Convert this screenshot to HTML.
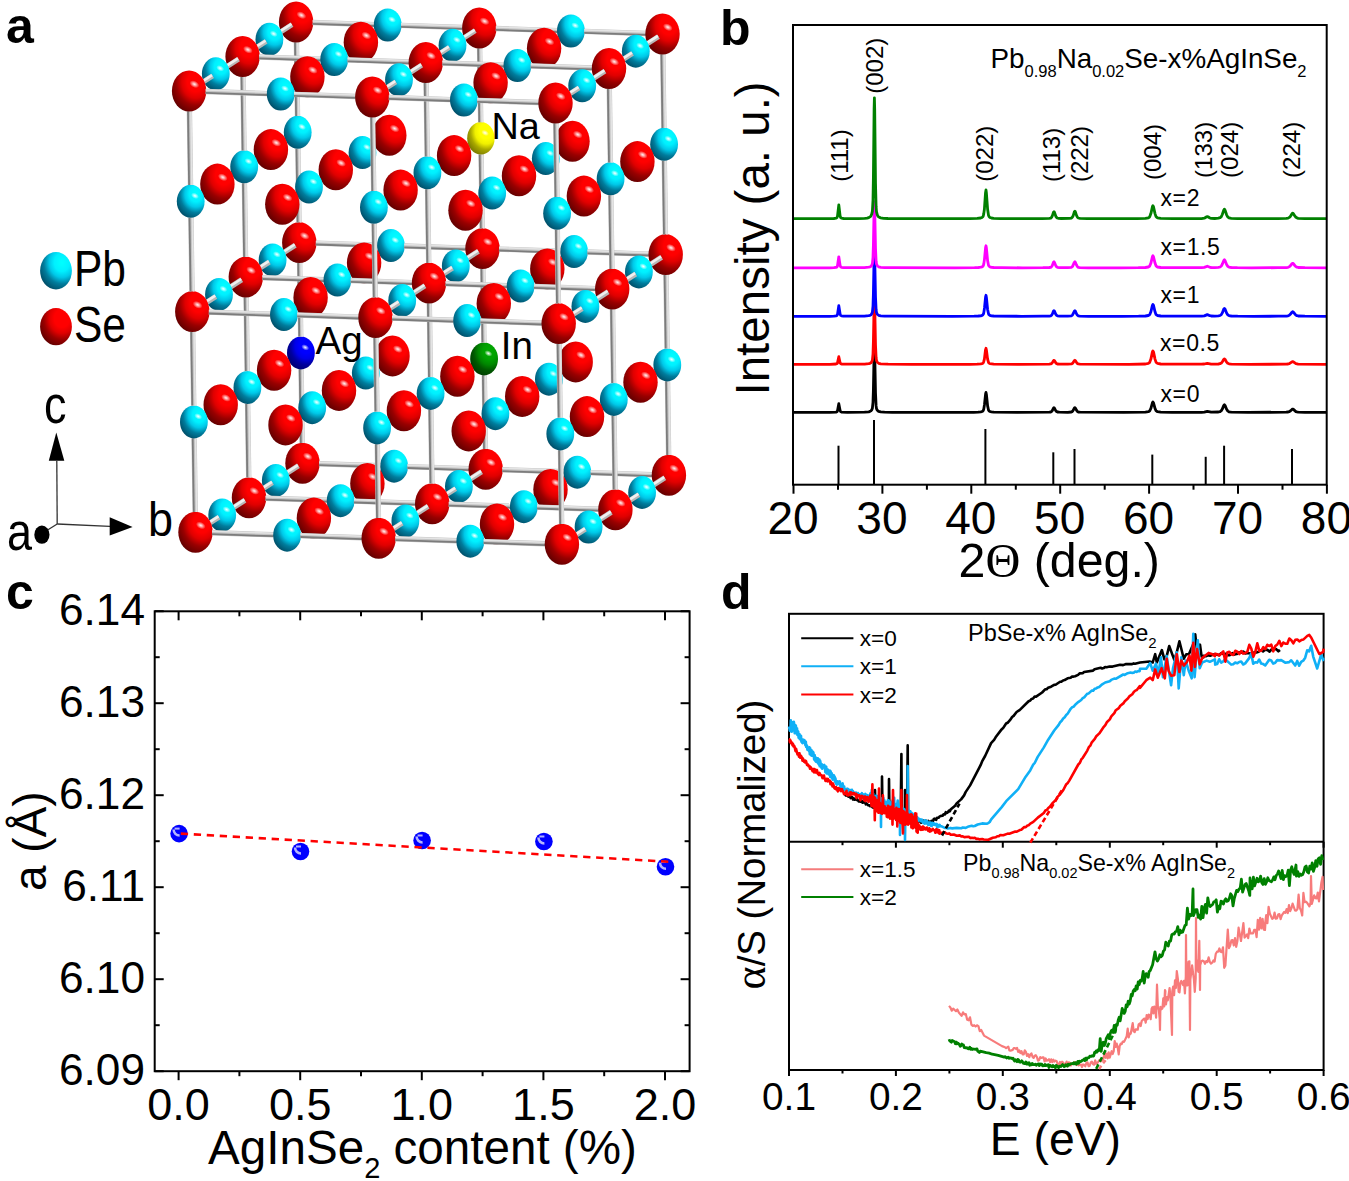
<!DOCTYPE html><html><head><meta charset="utf-8"><style>html,body{margin:0;padding:0;background:#fff;overflow:hidden}svg{display:block}</style></head><body>
<svg width="1349" height="1181" viewBox="0 0 1349 1181">
<defs>
<radialGradient id="gse" cx="0.7" cy="0.27" r="0.8" fx="0.68" fy="0.28">
<stop offset="0" stop-color="#ff0000"/><stop offset="0.1" stop-color="#ff0000"/><stop offset="0.3" stop-color="#ff0000"/><stop offset="0.5" stop-color="#e00000"/><stop offset="0.72" stop-color="#980000"/><stop offset="1" stop-color="#620000"/>
</radialGradient>
<radialGradient id="gpb" cx="0.7" cy="0.27" r="0.8" fx="0.68" fy="0.28">
<stop offset="0" stop-color="#00ffff"/><stop offset="0.1" stop-color="#00fbff"/><stop offset="0.3" stop-color="#00f0ff"/><stop offset="0.5" stop-color="#00c8e8"/><stop offset="0.72" stop-color="#007c9c"/><stop offset="1" stop-color="#004e68"/>
</radialGradient>
<radialGradient id="gna" cx="0.7" cy="0.27" r="0.8" fx="0.68" fy="0.28">
<stop offset="0" stop-color="#ffff00"/><stop offset="0.1" stop-color="#ffff00"/><stop offset="0.3" stop-color="#ffff00"/><stop offset="0.5" stop-color="#f0f000"/><stop offset="0.72" stop-color="#a8a800"/><stop offset="1" stop-color="#787800"/>
</radialGradient>
<radialGradient id="gag" cx="0.7" cy="0.27" r="0.8" fx="0.68" fy="0.28">
<stop offset="0" stop-color="#0000ff"/><stop offset="0.1" stop-color="#0000ff"/><stop offset="0.3" stop-color="#0000ff"/><stop offset="0.5" stop-color="#0000e8"/><stop offset="0.72" stop-color="#0000a0"/><stop offset="1" stop-color="#000070"/>
</radialGradient>
<radialGradient id="gin" cx="0.7" cy="0.27" r="0.8" fx="0.68" fy="0.28">
<stop offset="0" stop-color="#00a800"/><stop offset="0.1" stop-color="#00a800"/><stop offset="0.3" stop-color="#00a000"/><stop offset="0.5" stop-color="#008800"/><stop offset="0.72" stop-color="#005800"/><stop offset="1" stop-color="#003c00"/>
</radialGradient>
<radialGradient id="ghl"><stop offset="0" stop-color="#fff" stop-opacity="0.95"/><stop offset="0.3" stop-color="#fff" stop-opacity="0.7"/><stop offset="1" stop-color="#fff" stop-opacity="0"/></radialGradient>
<radialGradient id="gball" cx="0.5" cy="0.5" r="0.5"><stop offset="0" stop-color="#0000ff"/><stop offset="0.85" stop-color="#0000f0"/><stop offset="1" stop-color="#0000c8"/></radialGradient>
</defs>
<rect width="1349" height="1181" fill="#fff"/>
<g id="crystal">
<ellipse cx="302.5" cy="463.2" rx="17.2" ry="20.5" fill="url(#gse)"/>
<ellipse cx="307.8" cy="456.4" rx="5.2" ry="3.4" transform="rotate(28 307.8 456.4)" fill="url(#ghl)"/>
<path d="M301.1 369.2L302.2 443" stroke="#c4c4c4" stroke-width="5.4"/>
<path d="M299.7 369.3L300.8 443" stroke="#7c7c7c" stroke-width="1.8"/>
<path d="M302.6 369.2L303.7 443" stroke="#e4e4e4" stroke-width="1.6"/>
<path d="M319 463.7L380.8 465.8" stroke="#c4c4c4" stroke-width="5.4"/>
<path d="M319 465.1L380.7 467.2" stroke="#7c7c7c" stroke-width="1.8"/>
<path d="M319.1 462.2L380.8 464.3" stroke="#e4e4e4" stroke-width="1.6"/>
<ellipse cx="300.9" cy="352.9" rx="13.9" ry="16.5" fill="url(#gag)"/>
<ellipse cx="305.2" cy="347.4" rx="4.2" ry="2.8" transform="rotate(28 305.2 347.4)" fill="url(#ghl)"/>
<path d="M299.6 262.8L300.7 336.6" stroke="#c4c4c4" stroke-width="5.4"/>
<path d="M298.2 262.8L299.3 336.6" stroke="#7c7c7c" stroke-width="1.8"/>
<path d="M301.1 262.8L302.2 336.5" stroke="#e4e4e4" stroke-width="1.6"/>
<ellipse cx="394.1" cy="466.2" rx="13.9" ry="16.5" fill="url(#gpb)"/>
<ellipse cx="398.4" cy="460.7" rx="4.2" ry="2.8" transform="rotate(28 398.4 460.7)" fill="url(#ghl)"/>
<ellipse cx="299.3" cy="242.6" rx="17.2" ry="20.5" fill="url(#gse)"/>
<ellipse cx="304.6" cy="235.8" rx="5.2" ry="3.4" transform="rotate(28 304.6 235.8)" fill="url(#ghl)"/>
<path d="M297.9 148.6L299 222.4" stroke="#c4c4c4" stroke-width="5.4"/>
<path d="M296.5 148.7L297.6 222.4" stroke="#7c7c7c" stroke-width="1.8"/>
<path d="M299.4 148.6L300.5 222.4" stroke="#e4e4e4" stroke-width="1.6"/>
<path d="M407.4 466.6L469.2 468.7" stroke="#c4c4c4" stroke-width="5.4"/>
<path d="M407.4 468L469.1 470.1" stroke="#7c7c7c" stroke-width="1.8"/>
<path d="M407.5 465.1L469.2 467.2" stroke="#e4e4e4" stroke-width="1.6"/>
<ellipse cx="392.5" cy="355.9" rx="17.2" ry="20.5" fill="url(#gse)"/>
<ellipse cx="397.8" cy="349.1" rx="5.2" ry="3.4" transform="rotate(28 397.8 349.1)" fill="url(#ghl)"/>
<path d="M315.8 243.1L377.6 245.2" stroke="#c4c4c4" stroke-width="5.4"/>
<path d="M315.8 244.5L377.5 246.6" stroke="#7c7c7c" stroke-width="1.8"/>
<path d="M315.9 241.6L377.6 243.7" stroke="#e4e4e4" stroke-width="1.6"/>
<ellipse cx="297.7" cy="132.3" rx="13.9" ry="16.5" fill="url(#gpb)"/>
<ellipse cx="302" cy="126.8" rx="4.2" ry="2.8" transform="rotate(28 302 126.8)" fill="url(#ghl)"/>
<path d="M279 478.3L298.4 465.8" stroke="#b8b8b8" stroke-width="5.2"/>
<path d="M278.6 477.6L297.9 465.1" stroke="#f0f0f0" stroke-width="2.6"/>
<path d="M296.4 42.2L297.5 116" stroke="#c4c4c4" stroke-width="5.4"/>
<path d="M295 42.2L296.1 116" stroke="#7c7c7c" stroke-width="1.8"/>
<path d="M297.9 42.2L299 115.9" stroke="#e4e4e4" stroke-width="1.6"/>
<ellipse cx="485.7" cy="469.2" rx="17.2" ry="20.5" fill="url(#gse)"/>
<ellipse cx="491" cy="462.4" rx="5.2" ry="3.4" transform="rotate(28 491 462.4)" fill="url(#ghl)"/>
<ellipse cx="390.9" cy="245.6" rx="13.9" ry="16.5" fill="url(#gpb)"/>
<ellipse cx="395.2" cy="240.1" rx="4.2" ry="2.8" transform="rotate(28 395.2 240.1)" fill="url(#ghl)"/>
<ellipse cx="296.1" cy="22" rx="17.2" ry="20.5" fill="url(#gse)"/>
<ellipse cx="301.4" cy="15.2" rx="5.2" ry="3.4" transform="rotate(28 301.4 15.2)" fill="url(#ghl)"/>
<path d="M484.3 375.2L485.4 449" stroke="#c4c4c4" stroke-width="5.4"/>
<path d="M482.9 375.3L484 449" stroke="#7c7c7c" stroke-width="1.8"/>
<path d="M485.8 375.2L486.9 449" stroke="#e4e4e4" stroke-width="1.6"/>
<path d="M502.2 469.7L564 471.8" stroke="#c4c4c4" stroke-width="5.4"/>
<path d="M502.2 471.1L563.9 473.2" stroke="#7c7c7c" stroke-width="1.8"/>
<path d="M502.3 468.2L564 470.3" stroke="#e4e4e4" stroke-width="1.6"/>
<ellipse cx="484.1" cy="358.9" rx="13.9" ry="16.5" fill="url(#gin)"/>
<ellipse cx="488.4" cy="353.4" rx="4.2" ry="2.8" transform="rotate(28 488.4 353.4)" fill="url(#ghl)"/>
<path d="M404.2 246L466 248.1" stroke="#c4c4c4" stroke-width="5.4"/>
<path d="M404.2 247.4L465.9 249.5" stroke="#7c7c7c" stroke-width="1.8"/>
<path d="M404.3 244.5L466 246.6" stroke="#e4e4e4" stroke-width="1.6"/>
<ellipse cx="389.3" cy="135.3" rx="17.2" ry="20.5" fill="url(#gse)"/>
<ellipse cx="394.6" cy="128.5" rx="5.2" ry="3.4" transform="rotate(28 394.6 128.5)" fill="url(#ghl)"/>
<path d="M312.6 22.5L374.4 24.6" stroke="#c4c4c4" stroke-width="5.4"/>
<path d="M312.6 23.9L374.3 26" stroke="#7c7c7c" stroke-width="1.8"/>
<path d="M312.7 21L374.4 23.1" stroke="#e4e4e4" stroke-width="1.6"/>
<path d="M482.8 268.8L483.9 342.6" stroke="#c4c4c4" stroke-width="5.4"/>
<path d="M481.4 268.8L482.5 342.6" stroke="#7c7c7c" stroke-width="1.8"/>
<path d="M484.3 268.8L485.4 342.5" stroke="#e4e4e4" stroke-width="1.6"/>
<path d="M275.8 257.7L295.2 245.2" stroke="#b8b8b8" stroke-width="5.2"/>
<path d="M275.4 257L294.7 244.5" stroke="#f0f0f0" stroke-width="2.6"/>
<ellipse cx="577.3" cy="472.2" rx="13.9" ry="16.5" fill="url(#gpb)"/>
<ellipse cx="581.6" cy="466.7" rx="4.2" ry="2.8" transform="rotate(28 581.6 466.7)" fill="url(#ghl)"/>
<ellipse cx="482.5" cy="248.6" rx="17.2" ry="20.5" fill="url(#gse)"/>
<ellipse cx="487.8" cy="241.8" rx="5.2" ry="3.4" transform="rotate(28 487.8 241.8)" fill="url(#ghl)"/>
<ellipse cx="387.7" cy="25" rx="13.9" ry="16.5" fill="url(#gpb)"/>
<ellipse cx="392" cy="19.5" rx="4.2" ry="2.8" transform="rotate(28 392 19.5)" fill="url(#ghl)"/>
<path d="M481.1 154.4L482.2 228.4" stroke="#c4c4c4" stroke-width="5.4"/>
<path d="M479.7 154.4L480.8 228.4" stroke="#7c7c7c" stroke-width="1.8"/>
<path d="M482.6 154.4L483.7 228.4" stroke="#e4e4e4" stroke-width="1.6"/>
<ellipse cx="275.8" cy="480.4" rx="13.9" ry="16.5" fill="url(#gpb)"/>
<ellipse cx="280.1" cy="475" rx="4.2" ry="2.8" transform="rotate(28 280.1 475)" fill="url(#ghl)"/>
<path d="M590.6 472.6L652.4 474.7" stroke="#c4c4c4" stroke-width="5.4"/>
<path d="M590.6 474L652.3 476.1" stroke="#7c7c7c" stroke-width="1.8"/>
<path d="M590.7 471.1L652.4 473.2" stroke="#e4e4e4" stroke-width="1.6"/>
<ellipse cx="575.7" cy="361.9" rx="17.2" ry="20.5" fill="url(#gse)"/>
<ellipse cx="581" cy="355.1" rx="5.2" ry="3.4" transform="rotate(28 581 355.1)" fill="url(#ghl)"/>
<path d="M499 249.1L560.8 251.2" stroke="#c4c4c4" stroke-width="5.4"/>
<path d="M499 250.5L560.7 252.6" stroke="#7c7c7c" stroke-width="1.8"/>
<path d="M499.1 247.6L560.8 249.7" stroke="#e4e4e4" stroke-width="1.6"/>
<ellipse cx="480.9" cy="138.3" rx="13.7" ry="16.3" fill="url(#gna)"/>
<ellipse cx="485.1" cy="132.9" rx="4.1" ry="2.7" transform="rotate(28 485.1 132.9)" fill="url(#ghl)"/>
<path d="M401 25.4L462.8 27.5" stroke="#c4c4c4" stroke-width="5.4"/>
<path d="M401 26.8L462.7 28.9" stroke="#7c7c7c" stroke-width="1.8"/>
<path d="M401.1 23.9L462.8 26" stroke="#e4e4e4" stroke-width="1.6"/>
<path d="M462.2 484.3L481.6 471.8" stroke="#b8b8b8" stroke-width="5.2"/>
<path d="M461.8 483.6L481.1 471.1" stroke="#f0f0f0" stroke-width="2.6"/>
<path d="M479.6 48.2L480.7 122.2" stroke="#c4c4c4" stroke-width="5.4"/>
<path d="M478.2 48.2L479.3 122.2" stroke="#7c7c7c" stroke-width="1.8"/>
<path d="M481.1 48.2L482.2 122.2" stroke="#e4e4e4" stroke-width="1.6"/>
<path d="M272.6 37.1L292 24.6" stroke="#b8b8b8" stroke-width="5.2"/>
<path d="M272.2 36.4L291.5 23.9" stroke="#f0f0f0" stroke-width="2.6"/>
<ellipse cx="274.1" cy="370.2" rx="17.2" ry="20.5" fill="url(#gse)"/>
<ellipse cx="279.5" cy="363.4" rx="5.2" ry="3.4" transform="rotate(28 279.5 363.4)" fill="url(#ghl)"/>
<ellipse cx="668.9" cy="475.2" rx="17.2" ry="20.5" fill="url(#gse)"/>
<ellipse cx="674.2" cy="468.4" rx="5.2" ry="3.4" transform="rotate(28 674.2 468.4)" fill="url(#ghl)"/>
<ellipse cx="574.1" cy="251.6" rx="13.9" ry="16.5" fill="url(#gpb)"/>
<ellipse cx="578.4" cy="246.1" rx="4.2" ry="2.8" transform="rotate(28 578.4 246.1)" fill="url(#ghl)"/>
<ellipse cx="479.3" cy="28" rx="17.2" ry="20.5" fill="url(#gse)"/>
<ellipse cx="484.6" cy="21.2" rx="5.2" ry="3.4" transform="rotate(28 484.6 21.2)" fill="url(#ghl)"/>
<path d="M667.5 381.2L668.6 455" stroke="#c4c4c4" stroke-width="5.4"/>
<path d="M666.1 381.3L667.2 455" stroke="#7c7c7c" stroke-width="1.8"/>
<path d="M669 381.2L670.1 455" stroke="#e4e4e4" stroke-width="1.6"/>
<ellipse cx="367.4" cy="483.4" rx="17.2" ry="20.5" fill="url(#gse)"/>
<ellipse cx="372.7" cy="476.7" rx="5.2" ry="3.4" transform="rotate(28 372.7 476.7)" fill="url(#ghl)"/>
<ellipse cx="272.6" cy="259.9" rx="13.9" ry="16.5" fill="url(#gpb)"/>
<ellipse cx="276.9" cy="254.4" rx="4.2" ry="2.8" transform="rotate(28 276.9 254.4)" fill="url(#ghl)"/>
<ellipse cx="667.3" cy="364.9" rx="13.9" ry="16.5" fill="url(#gpb)"/>
<ellipse cx="671.6" cy="359.4" rx="4.2" ry="2.8" transform="rotate(28 671.6 359.4)" fill="url(#ghl)"/>
<path d="M587.4 252L649.2 254.1" stroke="#c4c4c4" stroke-width="5.4"/>
<path d="M587.4 253.4L649.1 255.5" stroke="#7c7c7c" stroke-width="1.8"/>
<path d="M587.5 250.5L649.2 252.6" stroke="#e4e4e4" stroke-width="1.6"/>
<ellipse cx="572.5" cy="141.3" rx="17.2" ry="20.5" fill="url(#gse)"/>
<ellipse cx="577.8" cy="134.5" rx="5.2" ry="3.4" transform="rotate(28 577.8 134.5)" fill="url(#ghl)"/>
<path d="M495.8 28.5L557.6 30.6" stroke="#c4c4c4" stroke-width="5.4"/>
<path d="M495.8 29.9L557.5 32" stroke="#7c7c7c" stroke-width="1.8"/>
<path d="M495.9 27L557.6 29.1" stroke="#e4e4e4" stroke-width="1.6"/>
<path d="M666 274.8L667.1 348.6" stroke="#c4c4c4" stroke-width="5.4"/>
<path d="M664.6 274.8L665.7 348.6" stroke="#7c7c7c" stroke-width="1.8"/>
<path d="M667.5 274.8L668.6 348.5" stroke="#e4e4e4" stroke-width="1.6"/>
<path d="M459 263.7L478.4 251.2" stroke="#b8b8b8" stroke-width="5.2"/>
<path d="M458.6 263L477.9 250.5" stroke="#f0f0f0" stroke-width="2.6"/>
<ellipse cx="365.8" cy="373.1" rx="13.9" ry="16.5" fill="url(#gpb)"/>
<ellipse cx="370.1" cy="367.7" rx="4.2" ry="2.8" transform="rotate(28 370.1 367.7)" fill="url(#ghl)"/>
<ellipse cx="270.9" cy="149.6" rx="17.2" ry="20.5" fill="url(#gse)"/>
<ellipse cx="276.3" cy="142.8" rx="5.2" ry="3.4" transform="rotate(28 276.3 142.8)" fill="url(#ghl)"/>
<ellipse cx="665.7" cy="254.6" rx="17.2" ry="20.5" fill="url(#gse)"/>
<ellipse cx="671" cy="247.8" rx="5.2" ry="3.4" transform="rotate(28 671 247.8)" fill="url(#ghl)"/>
<path d="M253.1 495.1L272.5 482.6" stroke="#b8b8b8" stroke-width="5.2"/>
<path d="M252.6 494.3L272 481.8" stroke="#f0f0f0" stroke-width="2.6"/>
<ellipse cx="570.9" cy="31" rx="13.9" ry="16.5" fill="url(#gpb)"/>
<ellipse cx="575.2" cy="25.5" rx="4.2" ry="2.8" transform="rotate(28 575.2 25.5)" fill="url(#ghl)"/>
<path d="M664.3 160.6L665.4 234.4" stroke="#c4c4c4" stroke-width="5.4"/>
<path d="M662.9 160.7L664 234.4" stroke="#7c7c7c" stroke-width="1.8"/>
<path d="M665.8 160.6L666.9 234.4" stroke="#e4e4e4" stroke-width="1.6"/>
<ellipse cx="458.9" cy="486.4" rx="13.9" ry="16.5" fill="url(#gpb)"/>
<ellipse cx="463.3" cy="481" rx="4.2" ry="2.8" transform="rotate(28 463.3 481)" fill="url(#ghl)"/>
<ellipse cx="364.1" cy="262.9" rx="17.2" ry="20.5" fill="url(#gse)"/>
<ellipse cx="369.5" cy="256.1" rx="5.2" ry="3.4" transform="rotate(28 369.5 256.1)" fill="url(#ghl)"/>
<ellipse cx="269.4" cy="39.3" rx="13.9" ry="16.5" fill="url(#gpb)"/>
<ellipse cx="273.7" cy="33.8" rx="4.2" ry="2.8" transform="rotate(28 273.7 33.8)" fill="url(#ghl)"/>
<ellipse cx="664.1" cy="144.3" rx="13.9" ry="16.5" fill="url(#gpb)"/>
<ellipse cx="668.4" cy="138.8" rx="4.2" ry="2.8" transform="rotate(28 668.4 138.8)" fill="url(#ghl)"/>
<path d="M584.2 31.4L646 33.5" stroke="#c4c4c4" stroke-width="5.4"/>
<path d="M584.2 32.8L645.9 34.9" stroke="#7c7c7c" stroke-width="1.8"/>
<path d="M584.3 29.9L646 32" stroke="#e4e4e4" stroke-width="1.6"/>
<path d="M645.4 490.3L664.8 477.8" stroke="#b8b8b8" stroke-width="5.2"/>
<path d="M645 489.6L664.3 477.1" stroke="#f0f0f0" stroke-width="2.6"/>
<path d="M662.8 54.2L663.9 128" stroke="#c4c4c4" stroke-width="5.4"/>
<path d="M661.4 54.2L662.5 128" stroke="#7c7c7c" stroke-width="1.8"/>
<path d="M664.3 54.2L665.4 127.9" stroke="#e4e4e4" stroke-width="1.6"/>
<path d="M455.8 43.1L475.2 30.6" stroke="#b8b8b8" stroke-width="5.2"/>
<path d="M455.4 42.4L474.7 29.9" stroke="#f0f0f0" stroke-width="2.6"/>
<ellipse cx="457.4" cy="376.2" rx="17.2" ry="20.5" fill="url(#gse)"/>
<ellipse cx="462.7" cy="369.4" rx="5.2" ry="3.4" transform="rotate(28 462.7 369.4)" fill="url(#ghl)"/>
<ellipse cx="362.5" cy="152.6" rx="13.9" ry="16.5" fill="url(#gpb)"/>
<ellipse cx="366.9" cy="147.1" rx="4.2" ry="2.8" transform="rotate(28 366.9 147.1)" fill="url(#ghl)"/>
<ellipse cx="662.5" cy="34" rx="17.2" ry="20.5" fill="url(#gse)"/>
<ellipse cx="667.8" cy="27.2" rx="5.2" ry="3.4" transform="rotate(28 667.8 27.2)" fill="url(#ghl)"/>
<path d="M249.9 274.5L269.3 262" stroke="#b8b8b8" stroke-width="5.2"/>
<path d="M249.4 273.7L268.8 261.2" stroke="#f0f0f0" stroke-width="2.6"/>
<ellipse cx="550.5" cy="489.4" rx="17.2" ry="20.5" fill="url(#gse)"/>
<ellipse cx="555.9" cy="482.7" rx="5.2" ry="3.4" transform="rotate(28 555.9 482.7)" fill="url(#ghl)"/>
<ellipse cx="455.8" cy="265.9" rx="13.9" ry="16.5" fill="url(#gpb)"/>
<ellipse cx="460.1" cy="260.4" rx="4.2" ry="2.8" transform="rotate(28 460.1 260.4)" fill="url(#ghl)"/>
<ellipse cx="360.9" cy="42.2" rx="17.2" ry="20.5" fill="url(#gse)"/>
<ellipse cx="366.3" cy="35.5" rx="5.2" ry="3.4" transform="rotate(28 366.3 35.5)" fill="url(#ghl)"/>
<path d="M642.2 269.7L661.6 257.2" stroke="#b8b8b8" stroke-width="5.2"/>
<path d="M641.8 269L661.1 256.5" stroke="#f0f0f0" stroke-width="2.6"/>
<ellipse cx="249" cy="497.7" rx="17.2" ry="20.5" fill="url(#gse)"/>
<ellipse cx="254.3" cy="490.9" rx="5.2" ry="3.4" transform="rotate(28 254.3 490.9)" fill="url(#ghl)"/>
<ellipse cx="548.9" cy="379.2" rx="13.9" ry="16.5" fill="url(#gpb)"/>
<ellipse cx="553.3" cy="373.7" rx="4.2" ry="2.8" transform="rotate(28 553.3 373.7)" fill="url(#ghl)"/>
<ellipse cx="454.1" cy="155.6" rx="17.2" ry="20.5" fill="url(#gse)"/>
<ellipse cx="459.5" cy="148.8" rx="5.2" ry="3.4" transform="rotate(28 459.5 148.8)" fill="url(#ghl)"/>
<path d="M436.3 501.1L455.7 488.6" stroke="#b8b8b8" stroke-width="5.2"/>
<path d="M435.8 500.3L455.2 487.8" stroke="#f0f0f0" stroke-width="2.6"/>
<path d="M247.6 403.7L248.7 477.5" stroke="#c4c4c4" stroke-width="5.4"/>
<path d="M246.2 403.8L247.3 477.5" stroke="#7c7c7c" stroke-width="1.8"/>
<path d="M249.1 403.7L250.2 477.5" stroke="#e4e4e4" stroke-width="1.6"/>
<path d="M246.7 53.9L266.1 41.4" stroke="#b8b8b8" stroke-width="5.2"/>
<path d="M246.2 53.1L265.6 40.6" stroke="#f0f0f0" stroke-width="2.6"/>
<path d="M265.5 498.2L327.3 500.3" stroke="#c4c4c4" stroke-width="5.4"/>
<path d="M265.5 499.6L327.2 501.7" stroke="#7c7c7c" stroke-width="1.8"/>
<path d="M265.6 496.7L327.3 498.8" stroke="#e4e4e4" stroke-width="1.6"/>
<ellipse cx="247.4" cy="387.4" rx="13.9" ry="16.5" fill="url(#gpb)"/>
<ellipse cx="251.7" cy="381.9" rx="4.2" ry="2.8" transform="rotate(28 251.7 381.9)" fill="url(#ghl)"/>
<ellipse cx="642.1" cy="492.4" rx="13.9" ry="16.5" fill="url(#gpb)"/>
<ellipse cx="646.5" cy="487" rx="4.2" ry="2.8" transform="rotate(28 646.5 487)" fill="url(#ghl)"/>
<ellipse cx="547.3" cy="268.9" rx="17.2" ry="20.5" fill="url(#gse)"/>
<ellipse cx="552.7" cy="262.1" rx="5.2" ry="3.4" transform="rotate(28 552.7 262.1)" fill="url(#ghl)"/>
<ellipse cx="452.5" cy="45.3" rx="13.9" ry="16.5" fill="url(#gpb)"/>
<ellipse cx="456.9" cy="39.8" rx="4.2" ry="2.8" transform="rotate(28 456.9 39.8)" fill="url(#ghl)"/>
<path d="M246.1 297.3L247.2 371.1" stroke="#c4c4c4" stroke-width="5.4"/>
<path d="M244.7 297.3L245.8 371.1" stroke="#7c7c7c" stroke-width="1.8"/>
<path d="M247.6 297.3L248.7 371" stroke="#e4e4e4" stroke-width="1.6"/>
<ellipse cx="340.6" cy="500.7" rx="13.9" ry="16.5" fill="url(#gpb)"/>
<ellipse cx="344.9" cy="495.2" rx="4.2" ry="2.8" transform="rotate(28 344.9 495.2)" fill="url(#ghl)"/>
<path d="M639 49.1L658.4 36.6" stroke="#b8b8b8" stroke-width="5.2"/>
<path d="M638.6 48.4L657.9 35.9" stroke="#f0f0f0" stroke-width="2.6"/>
<ellipse cx="245.8" cy="277.1" rx="17.2" ry="20.5" fill="url(#gse)"/>
<ellipse cx="251.1" cy="270.3" rx="5.2" ry="3.4" transform="rotate(28 251.1 270.3)" fill="url(#ghl)"/>
<ellipse cx="640.5" cy="382.2" rx="17.2" ry="20.5" fill="url(#gse)"/>
<ellipse cx="645.9" cy="375.4" rx="5.2" ry="3.4" transform="rotate(28 645.9 375.4)" fill="url(#ghl)"/>
<ellipse cx="545.8" cy="158.6" rx="13.9" ry="16.5" fill="url(#gpb)"/>
<ellipse cx="550.1" cy="153.1" rx="4.2" ry="2.8" transform="rotate(28 550.1 153.1)" fill="url(#ghl)"/>
<path d="M433.1 280.5L452.5 268" stroke="#b8b8b8" stroke-width="5.2"/>
<path d="M432.6 279.7L452 267.2" stroke="#f0f0f0" stroke-width="2.6"/>
<path d="M244.4 183.1L245.5 256.9" stroke="#c4c4c4" stroke-width="5.4"/>
<path d="M243 183.2L244.1 256.9" stroke="#7c7c7c" stroke-width="1.8"/>
<path d="M245.9 183.1L247 256.9" stroke="#e4e4e4" stroke-width="1.6"/>
<path d="M353.9 501.1L415.7 503.2" stroke="#c4c4c4" stroke-width="5.4"/>
<path d="M353.9 502.5L415.6 504.6" stroke="#7c7c7c" stroke-width="1.8"/>
<path d="M354 499.6L415.7 501.7" stroke="#e4e4e4" stroke-width="1.6"/>
<ellipse cx="339" cy="390.4" rx="17.2" ry="20.5" fill="url(#gse)"/>
<ellipse cx="344.3" cy="383.6" rx="5.2" ry="3.4" transform="rotate(28 344.3 383.6)" fill="url(#ghl)"/>
<path d="M262.3 277.6L324.1 279.7" stroke="#c4c4c4" stroke-width="5.4"/>
<path d="M262.3 279L324 281.1" stroke="#7c7c7c" stroke-width="1.8"/>
<path d="M262.4 276.1L324.1 278.2" stroke="#e4e4e4" stroke-width="1.6"/>
<ellipse cx="244.2" cy="166.8" rx="13.9" ry="16.5" fill="url(#gpb)"/>
<ellipse cx="248.5" cy="161.3" rx="4.2" ry="2.8" transform="rotate(28 248.5 161.3)" fill="url(#ghl)"/>
<ellipse cx="638.9" cy="271.9" rx="13.9" ry="16.5" fill="url(#gpb)"/>
<ellipse cx="643.3" cy="266.4" rx="4.2" ry="2.8" transform="rotate(28 643.3 266.4)" fill="url(#ghl)"/>
<ellipse cx="544.1" cy="48.3" rx="17.2" ry="20.5" fill="url(#gse)"/>
<ellipse cx="549.5" cy="41.5" rx="5.2" ry="3.4" transform="rotate(28 549.5 41.5)" fill="url(#ghl)"/>
<path d="M225.5 512.8L244.9 500.3" stroke="#b8b8b8" stroke-width="5.2"/>
<path d="M225.1 512.1L244.4 499.6" stroke="#f0f0f0" stroke-width="2.6"/>
<path d="M242.9 76.7L244 150.5" stroke="#c4c4c4" stroke-width="5.4"/>
<path d="M241.5 76.7L242.6 150.5" stroke="#7c7c7c" stroke-width="1.8"/>
<path d="M244.4 76.7L245.5 150.4" stroke="#e4e4e4" stroke-width="1.6"/>
<ellipse cx="432.2" cy="503.7" rx="17.2" ry="20.5" fill="url(#gse)"/>
<ellipse cx="437.5" cy="496.9" rx="5.2" ry="3.4" transform="rotate(28 437.5 496.9)" fill="url(#ghl)"/>
<ellipse cx="337.4" cy="280.1" rx="13.9" ry="16.5" fill="url(#gpb)"/>
<ellipse cx="341.7" cy="274.6" rx="4.2" ry="2.8" transform="rotate(28 341.7 274.6)" fill="url(#ghl)"/>
<ellipse cx="242.6" cy="56.5" rx="17.2" ry="20.5" fill="url(#gse)"/>
<ellipse cx="247.9" cy="49.7" rx="5.2" ry="3.4" transform="rotate(28 247.9 49.7)" fill="url(#ghl)"/>
<ellipse cx="637.4" cy="161.6" rx="17.2" ry="20.5" fill="url(#gse)"/>
<ellipse cx="642.7" cy="154.8" rx="5.2" ry="3.4" transform="rotate(28 642.7 154.8)" fill="url(#ghl)"/>
<path d="M619.5 507.1L638.9 494.6" stroke="#b8b8b8" stroke-width="5.2"/>
<path d="M619 506.3L638.4 493.8" stroke="#f0f0f0" stroke-width="2.6"/>
<path d="M430.8 409.7L431.9 483.5" stroke="#c4c4c4" stroke-width="5.4"/>
<path d="M429.4 409.8L430.5 483.5" stroke="#7c7c7c" stroke-width="1.8"/>
<path d="M432.3 409.7L433.4 483.5" stroke="#e4e4e4" stroke-width="1.6"/>
<path d="M429.9 59.9L449.3 47.4" stroke="#b8b8b8" stroke-width="5.2"/>
<path d="M429.4 59.1L448.8 46.6" stroke="#f0f0f0" stroke-width="2.6"/>
<path d="M448.7 504.2L510.5 506.3" stroke="#c4c4c4" stroke-width="5.4"/>
<path d="M448.7 505.6L510.4 507.7" stroke="#7c7c7c" stroke-width="1.8"/>
<path d="M448.8 502.7L510.5 504.8" stroke="#e4e4e4" stroke-width="1.6"/>
<ellipse cx="430.6" cy="393.4" rx="13.9" ry="16.5" fill="url(#gpb)"/>
<ellipse cx="434.9" cy="387.9" rx="4.2" ry="2.8" transform="rotate(28 434.9 387.9)" fill="url(#ghl)"/>
<path d="M350.7 280.5L412.5 282.6" stroke="#c4c4c4" stroke-width="5.4"/>
<path d="M350.7 281.9L412.4 284" stroke="#7c7c7c" stroke-width="1.8"/>
<path d="M350.8 279L412.5 281.1" stroke="#e4e4e4" stroke-width="1.6"/>
<ellipse cx="335.8" cy="169.8" rx="17.2" ry="20.5" fill="url(#gse)"/>
<ellipse cx="341.1" cy="163" rx="5.2" ry="3.4" transform="rotate(28 341.1 163)" fill="url(#ghl)"/>
<path d="M259.1 57L320.9 59.1" stroke="#c4c4c4" stroke-width="5.4"/>
<path d="M259.1 58.4L320.8 60.5" stroke="#7c7c7c" stroke-width="1.8"/>
<path d="M259.2 55.5L320.9 57.6" stroke="#e4e4e4" stroke-width="1.6"/>
<ellipse cx="635.8" cy="51.2" rx="13.9" ry="16.5" fill="url(#gpb)"/>
<ellipse cx="640.1" cy="45.8" rx="4.2" ry="2.8" transform="rotate(28 640.1 45.8)" fill="url(#ghl)"/>
<path d="M429.3 303.3L430.4 377.1" stroke="#c4c4c4" stroke-width="5.4"/>
<path d="M427.9 303.3L429 377.1" stroke="#7c7c7c" stroke-width="1.8"/>
<path d="M430.8 303.3L431.9 377" stroke="#e4e4e4" stroke-width="1.6"/>
<path d="M222.3 292.2L241.7 279.7" stroke="#b8b8b8" stroke-width="5.2"/>
<path d="M221.9 291.5L241.2 279" stroke="#f0f0f0" stroke-width="2.6"/>
<ellipse cx="523.8" cy="506.7" rx="13.9" ry="16.5" fill="url(#gpb)"/>
<ellipse cx="528.1" cy="501.2" rx="4.2" ry="2.8" transform="rotate(28 528.1 501.2)" fill="url(#ghl)"/>
<ellipse cx="429" cy="283.1" rx="17.2" ry="20.5" fill="url(#gse)"/>
<ellipse cx="434.3" cy="276.3" rx="5.2" ry="3.4" transform="rotate(28 434.3 276.3)" fill="url(#ghl)"/>
<ellipse cx="334.2" cy="59.5" rx="13.9" ry="16.5" fill="url(#gpb)"/>
<ellipse cx="338.5" cy="54" rx="4.2" ry="2.8" transform="rotate(28 338.5 54)" fill="url(#ghl)"/>
<path d="M616.3 286.5L635.7 274" stroke="#b8b8b8" stroke-width="5.2"/>
<path d="M615.8 285.7L635.2 273.2" stroke="#f0f0f0" stroke-width="2.6"/>
<path d="M427.6 189.1L428.7 262.9" stroke="#c4c4c4" stroke-width="5.4"/>
<path d="M426.2 189.2L427.3 262.9" stroke="#7c7c7c" stroke-width="1.8"/>
<path d="M429.1 189.1L430.2 262.9" stroke="#e4e4e4" stroke-width="1.6"/>
<ellipse cx="222.2" cy="515" rx="13.9" ry="16.5" fill="url(#gpb)"/>
<ellipse cx="226.6" cy="509.5" rx="4.2" ry="2.8" transform="rotate(28 226.6 509.5)" fill="url(#ghl)"/>
<path d="M537.1 507.1L598.9 509.2" stroke="#c4c4c4" stroke-width="5.4"/>
<path d="M537.1 508.5L598.8 510.6" stroke="#7c7c7c" stroke-width="1.8"/>
<path d="M537.2 505.6L598.9 507.7" stroke="#e4e4e4" stroke-width="1.6"/>
<ellipse cx="522.2" cy="396.4" rx="17.2" ry="20.5" fill="url(#gse)"/>
<ellipse cx="527.5" cy="389.6" rx="5.2" ry="3.4" transform="rotate(28 527.5 389.6)" fill="url(#ghl)"/>
<path d="M445.5 283.6L507.3 285.7" stroke="#c4c4c4" stroke-width="5.4"/>
<path d="M445.5 285L507.2 287.1" stroke="#7c7c7c" stroke-width="1.8"/>
<path d="M445.6 282.1L507.3 284.2" stroke="#e4e4e4" stroke-width="1.6"/>
<ellipse cx="427.4" cy="172.8" rx="13.9" ry="16.5" fill="url(#gpb)"/>
<ellipse cx="431.7" cy="167.3" rx="4.2" ry="2.8" transform="rotate(28 431.7 167.3)" fill="url(#ghl)"/>
<path d="M347.5 59.9L409.3 62" stroke="#c4c4c4" stroke-width="5.4"/>
<path d="M347.5 61.3L409.2 63.4" stroke="#7c7c7c" stroke-width="1.8"/>
<path d="M347.6 58.4L409.3 60.5" stroke="#e4e4e4" stroke-width="1.6"/>
<path d="M408.7 518.8L428.1 506.3" stroke="#b8b8b8" stroke-width="5.2"/>
<path d="M408.3 518.1L427.6 505.6" stroke="#f0f0f0" stroke-width="2.6"/>
<path d="M426.1 82.7L427.2 156.5" stroke="#c4c4c4" stroke-width="5.4"/>
<path d="M424.7 82.7L425.8 156.5" stroke="#7c7c7c" stroke-width="1.8"/>
<path d="M427.6 82.7L428.7 156.4" stroke="#e4e4e4" stroke-width="1.6"/>
<path d="M219.1 71.6L238.5 59.1" stroke="#b8b8b8" stroke-width="5.2"/>
<path d="M218.7 70.9L238 58.4" stroke="#f0f0f0" stroke-width="2.6"/>
<ellipse cx="220.7" cy="404.7" rx="17.2" ry="20.5" fill="url(#gse)"/>
<ellipse cx="226" cy="397.9" rx="5.2" ry="3.4" transform="rotate(28 226 397.9)" fill="url(#ghl)"/>
<ellipse cx="615.4" cy="509.7" rx="17.2" ry="20.5" fill="url(#gse)"/>
<ellipse cx="620.7" cy="502.9" rx="5.2" ry="3.4" transform="rotate(28 620.7 502.9)" fill="url(#ghl)"/>
<ellipse cx="520.6" cy="286.1" rx="13.9" ry="16.5" fill="url(#gpb)"/>
<ellipse cx="524.9" cy="280.6" rx="4.2" ry="2.8" transform="rotate(28 524.9 280.6)" fill="url(#ghl)"/>
<ellipse cx="425.8" cy="62.5" rx="17.2" ry="20.5" fill="url(#gse)"/>
<ellipse cx="431.1" cy="55.7" rx="5.2" ry="3.4" transform="rotate(28 431.1 55.7)" fill="url(#ghl)"/>
<path d="M614 415.7L615.1 489.5" stroke="#c4c4c4" stroke-width="5.4"/>
<path d="M612.6 415.8L613.7 489.5" stroke="#7c7c7c" stroke-width="1.8"/>
<path d="M615.5 415.7L616.6 489.5" stroke="#e4e4e4" stroke-width="1.6"/>
<path d="M613.1 65.9L632.5 53.4" stroke="#b8b8b8" stroke-width="5.2"/>
<path d="M612.6 65.1L632 52.6" stroke="#f0f0f0" stroke-width="2.6"/>
<ellipse cx="313.9" cy="518" rx="17.2" ry="20.5" fill="url(#gse)"/>
<ellipse cx="319.2" cy="511.2" rx="5.2" ry="3.4" transform="rotate(28 319.2 511.2)" fill="url(#ghl)"/>
<ellipse cx="219" cy="294.4" rx="13.9" ry="16.5" fill="url(#gpb)"/>
<ellipse cx="223.4" cy="288.9" rx="4.2" ry="2.8" transform="rotate(28 223.4 288.9)" fill="url(#ghl)"/>
<ellipse cx="613.8" cy="399.4" rx="13.9" ry="16.5" fill="url(#gpb)"/>
<ellipse cx="618.1" cy="393.9" rx="4.2" ry="2.8" transform="rotate(28 618.1 393.9)" fill="url(#ghl)"/>
<path d="M533.9 286.5L595.7 288.6" stroke="#c4c4c4" stroke-width="5.4"/>
<path d="M533.9 287.9L595.6 290" stroke="#7c7c7c" stroke-width="1.8"/>
<path d="M534 285L595.7 287.1" stroke="#e4e4e4" stroke-width="1.6"/>
<ellipse cx="519" cy="175.8" rx="17.2" ry="20.5" fill="url(#gse)"/>
<ellipse cx="524.3" cy="169" rx="5.2" ry="3.4" transform="rotate(28 524.3 169)" fill="url(#ghl)"/>
<path d="M442.3 63L504.1 65.1" stroke="#c4c4c4" stroke-width="5.4"/>
<path d="M442.3 64.4L504 66.5" stroke="#7c7c7c" stroke-width="1.8"/>
<path d="M442.4 61.5L504.1 63.6" stroke="#e4e4e4" stroke-width="1.6"/>
<path d="M612.5 309.3L613.6 383.1" stroke="#c4c4c4" stroke-width="5.4"/>
<path d="M611.1 309.3L612.2 383.1" stroke="#7c7c7c" stroke-width="1.8"/>
<path d="M614 309.3L615.1 383" stroke="#e4e4e4" stroke-width="1.6"/>
<path d="M405.5 298.2L424.9 285.7" stroke="#b8b8b8" stroke-width="5.2"/>
<path d="M405.1 297.5L424.4 285" stroke="#f0f0f0" stroke-width="2.6"/>
<ellipse cx="312.2" cy="407.7" rx="13.9" ry="16.5" fill="url(#gpb)"/>
<ellipse cx="316.6" cy="402.2" rx="4.2" ry="2.8" transform="rotate(28 316.6 402.2)" fill="url(#ghl)"/>
<ellipse cx="217.4" cy="184.1" rx="17.2" ry="20.5" fill="url(#gse)"/>
<ellipse cx="222.8" cy="177.3" rx="5.2" ry="3.4" transform="rotate(28 222.8 177.3)" fill="url(#ghl)"/>
<ellipse cx="612.2" cy="289.1" rx="17.2" ry="20.5" fill="url(#gse)"/>
<ellipse cx="617.5" cy="282.3" rx="5.2" ry="3.4" transform="rotate(28 617.5 282.3)" fill="url(#ghl)"/>
<path d="M199.6 529.6L219 517.1" stroke="#b8b8b8" stroke-width="5.2"/>
<path d="M199.1 528.8L218.5 516.3" stroke="#f0f0f0" stroke-width="2.6"/>
<ellipse cx="517.4" cy="65.5" rx="13.9" ry="16.5" fill="url(#gpb)"/>
<ellipse cx="521.7" cy="60" rx="4.2" ry="2.8" transform="rotate(28 521.7 60)" fill="url(#ghl)"/>
<path d="M610.8 195.1L611.9 268.9" stroke="#c4c4c4" stroke-width="5.4"/>
<path d="M609.4 195.2L610.5 268.9" stroke="#7c7c7c" stroke-width="1.8"/>
<path d="M612.3 195.1L613.4 268.9" stroke="#e4e4e4" stroke-width="1.6"/>
<ellipse cx="405.4" cy="521" rx="13.9" ry="16.5" fill="url(#gpb)"/>
<ellipse cx="409.8" cy="515.5" rx="4.2" ry="2.8" transform="rotate(28 409.8 515.5)" fill="url(#ghl)"/>
<ellipse cx="310.6" cy="297.4" rx="17.2" ry="20.5" fill="url(#gse)"/>
<ellipse cx="316" cy="290.6" rx="5.2" ry="3.4" transform="rotate(28 316 290.6)" fill="url(#ghl)"/>
<ellipse cx="215.8" cy="73.8" rx="13.9" ry="16.5" fill="url(#gpb)"/>
<ellipse cx="220.2" cy="68.3" rx="4.2" ry="2.8" transform="rotate(28 220.2 68.3)" fill="url(#ghl)"/>
<ellipse cx="610.6" cy="178.8" rx="13.9" ry="16.5" fill="url(#gpb)"/>
<ellipse cx="614.9" cy="173.3" rx="4.2" ry="2.8" transform="rotate(28 614.9 173.3)" fill="url(#ghl)"/>
<path d="M530.7 65.9L592.5 68" stroke="#c4c4c4" stroke-width="5.4"/>
<path d="M530.7 67.3L592.4 69.4" stroke="#7c7c7c" stroke-width="1.8"/>
<path d="M530.8 64.4L592.5 66.5" stroke="#e4e4e4" stroke-width="1.6"/>
<path d="M591.9 524.8L611.3 512.3" stroke="#b8b8b8" stroke-width="5.2"/>
<path d="M591.5 524.1L610.8 511.6" stroke="#f0f0f0" stroke-width="2.6"/>
<path d="M609.3 88.7L610.4 162.5" stroke="#c4c4c4" stroke-width="5.4"/>
<path d="M607.9 88.7L609 162.5" stroke="#7c7c7c" stroke-width="1.8"/>
<path d="M610.8 88.7L611.9 162.4" stroke="#e4e4e4" stroke-width="1.6"/>
<path d="M402.3 77.6L421.7 65.1" stroke="#b8b8b8" stroke-width="5.2"/>
<path d="M401.9 76.9L421.2 64.4" stroke="#f0f0f0" stroke-width="2.6"/>
<ellipse cx="403.9" cy="410.7" rx="17.2" ry="20.5" fill="url(#gse)"/>
<ellipse cx="409.2" cy="403.9" rx="5.2" ry="3.4" transform="rotate(28 409.2 403.9)" fill="url(#ghl)"/>
<ellipse cx="309" cy="187.1" rx="13.9" ry="16.5" fill="url(#gpb)"/>
<ellipse cx="313.4" cy="181.6" rx="4.2" ry="2.8" transform="rotate(28 313.4 181.6)" fill="url(#ghl)"/>
<ellipse cx="609" cy="68.5" rx="17.2" ry="20.5" fill="url(#gse)"/>
<ellipse cx="614.3" cy="61.7" rx="5.2" ry="3.4" transform="rotate(28 614.3 61.7)" fill="url(#ghl)"/>
<path d="M196.4 309L215.8 296.5" stroke="#b8b8b8" stroke-width="5.2"/>
<path d="M195.9 308.2L215.3 295.7" stroke="#f0f0f0" stroke-width="2.6"/>
<ellipse cx="497" cy="524" rx="17.2" ry="20.5" fill="url(#gse)"/>
<ellipse cx="502.4" cy="517.2" rx="5.2" ry="3.4" transform="rotate(28 502.4 517.2)" fill="url(#ghl)"/>
<ellipse cx="402.2" cy="300.4" rx="13.9" ry="16.5" fill="url(#gpb)"/>
<ellipse cx="406.6" cy="294.9" rx="4.2" ry="2.8" transform="rotate(28 406.6 294.9)" fill="url(#ghl)"/>
<ellipse cx="307.4" cy="76.8" rx="17.2" ry="20.5" fill="url(#gse)"/>
<ellipse cx="312.8" cy="70" rx="5.2" ry="3.4" transform="rotate(28 312.8 70)" fill="url(#ghl)"/>
<path d="M588.7 304.2L608.1 291.7" stroke="#b8b8b8" stroke-width="5.2"/>
<path d="M588.3 303.5L607.6 291" stroke="#f0f0f0" stroke-width="2.6"/>
<ellipse cx="195.5" cy="532.2" rx="17.2" ry="20.5" fill="url(#gse)"/>
<ellipse cx="200.8" cy="525.4" rx="5.2" ry="3.4" transform="rotate(28 200.8 525.4)" fill="url(#ghl)"/>
<ellipse cx="495.4" cy="413.7" rx="13.9" ry="16.5" fill="url(#gpb)"/>
<ellipse cx="499.8" cy="408.2" rx="4.2" ry="2.8" transform="rotate(28 499.8 408.2)" fill="url(#ghl)"/>
<ellipse cx="400.6" cy="190.1" rx="17.2" ry="20.5" fill="url(#gse)"/>
<ellipse cx="406" cy="183.3" rx="5.2" ry="3.4" transform="rotate(28 406 183.3)" fill="url(#ghl)"/>
<path d="M382.8 535.6L402.2 523.1" stroke="#b8b8b8" stroke-width="5.2"/>
<path d="M382.3 534.8L401.7 522.3" stroke="#f0f0f0" stroke-width="2.6"/>
<path d="M194.1 438.2L195.2 512" stroke="#c4c4c4" stroke-width="5.4"/>
<path d="M192.7 438.3L193.8 512" stroke="#7c7c7c" stroke-width="1.8"/>
<path d="M195.6 438.2L196.7 512" stroke="#e4e4e4" stroke-width="1.6"/>
<path d="M193.2 88.4L212.6 75.9" stroke="#b8b8b8" stroke-width="5.2"/>
<path d="M192.7 87.6L212.1 75.1" stroke="#f0f0f0" stroke-width="2.6"/>
<path d="M212 532.7L273.8 534.8" stroke="#c4c4c4" stroke-width="5.4"/>
<path d="M212 534.1L273.7 536.2" stroke="#7c7c7c" stroke-width="1.8"/>
<path d="M212.1 531.2L273.8 533.3" stroke="#e4e4e4" stroke-width="1.6"/>
<ellipse cx="193.9" cy="421.9" rx="13.9" ry="16.5" fill="url(#gpb)"/>
<ellipse cx="198.2" cy="416.4" rx="4.2" ry="2.8" transform="rotate(28 198.2 416.4)" fill="url(#ghl)"/>
<ellipse cx="588.6" cy="527" rx="13.9" ry="16.5" fill="url(#gpb)"/>
<ellipse cx="593" cy="521.5" rx="4.2" ry="2.8" transform="rotate(28 593 521.5)" fill="url(#ghl)"/>
<ellipse cx="493.8" cy="303.4" rx="17.2" ry="20.5" fill="url(#gse)"/>
<ellipse cx="499.2" cy="296.6" rx="5.2" ry="3.4" transform="rotate(28 499.2 296.6)" fill="url(#ghl)"/>
<ellipse cx="399" cy="79.8" rx="13.9" ry="16.5" fill="url(#gpb)"/>
<ellipse cx="403.4" cy="74.3" rx="4.2" ry="2.8" transform="rotate(28 403.4 74.3)" fill="url(#ghl)"/>
<path d="M192.6 331.8L193.7 405.6" stroke="#c4c4c4" stroke-width="5.4"/>
<path d="M191.2 331.8L192.3 405.6" stroke="#7c7c7c" stroke-width="1.8"/>
<path d="M194.1 331.8L195.2 405.5" stroke="#e4e4e4" stroke-width="1.6"/>
<ellipse cx="287.1" cy="535.2" rx="13.9" ry="16.5" fill="url(#gpb)"/>
<ellipse cx="291.4" cy="529.7" rx="4.2" ry="2.8" transform="rotate(28 291.4 529.7)" fill="url(#ghl)"/>
<path d="M585.5 83.6L604.9 71.1" stroke="#b8b8b8" stroke-width="5.2"/>
<path d="M585.1 82.9L604.4 70.4" stroke="#f0f0f0" stroke-width="2.6"/>
<ellipse cx="192.3" cy="311.6" rx="17.2" ry="20.5" fill="url(#gse)"/>
<ellipse cx="197.6" cy="304.8" rx="5.2" ry="3.4" transform="rotate(28 197.6 304.8)" fill="url(#ghl)"/>
<ellipse cx="587" cy="416.6" rx="17.2" ry="20.5" fill="url(#gse)"/>
<ellipse cx="592.4" cy="409.9" rx="5.2" ry="3.4" transform="rotate(28 592.4 409.9)" fill="url(#ghl)"/>
<ellipse cx="492.2" cy="193.1" rx="13.9" ry="16.5" fill="url(#gpb)"/>
<ellipse cx="496.6" cy="187.6" rx="4.2" ry="2.8" transform="rotate(28 496.6 187.6)" fill="url(#ghl)"/>
<path d="M379.6 315L399 302.5" stroke="#b8b8b8" stroke-width="5.2"/>
<path d="M379.1 314.2L398.5 301.7" stroke="#f0f0f0" stroke-width="2.6"/>
<path d="M190.9 217.6L192 291.4" stroke="#c4c4c4" stroke-width="5.4"/>
<path d="M189.5 217.7L190.6 291.4" stroke="#7c7c7c" stroke-width="1.8"/>
<path d="M192.4 217.6L193.5 291.4" stroke="#e4e4e4" stroke-width="1.6"/>
<path d="M300.4 535.6L362.2 537.7" stroke="#c4c4c4" stroke-width="5.4"/>
<path d="M300.4 537L362.1 539.1" stroke="#7c7c7c" stroke-width="1.8"/>
<path d="M300.5 534.1L362.2 536.2" stroke="#e4e4e4" stroke-width="1.6"/>
<ellipse cx="285.5" cy="424.9" rx="17.2" ry="20.5" fill="url(#gse)"/>
<ellipse cx="290.8" cy="418.1" rx="5.2" ry="3.4" transform="rotate(28 290.8 418.1)" fill="url(#ghl)"/>
<path d="M208.8 312.1L270.6 314.2" stroke="#c4c4c4" stroke-width="5.4"/>
<path d="M208.8 313.5L270.5 315.6" stroke="#7c7c7c" stroke-width="1.8"/>
<path d="M208.9 310.6L270.6 312.7" stroke="#e4e4e4" stroke-width="1.6"/>
<ellipse cx="190.7" cy="201.3" rx="13.9" ry="16.5" fill="url(#gpb)"/>
<ellipse cx="195" cy="195.8" rx="4.2" ry="2.8" transform="rotate(28 195 195.8)" fill="url(#ghl)"/>
<ellipse cx="585.4" cy="306.4" rx="13.9" ry="16.5" fill="url(#gpb)"/>
<ellipse cx="589.8" cy="300.9" rx="4.2" ry="2.8" transform="rotate(28 589.8 300.9)" fill="url(#ghl)"/>
<ellipse cx="490.6" cy="82.8" rx="17.2" ry="20.5" fill="url(#gse)"/>
<ellipse cx="496" cy="76" rx="5.2" ry="3.4" transform="rotate(28 496 76)" fill="url(#ghl)"/>
<path d="M189.4 111.2L190.5 185" stroke="#c4c4c4" stroke-width="5.4"/>
<path d="M188 111.2L189.1 185" stroke="#7c7c7c" stroke-width="1.8"/>
<path d="M190.9 111.2L192 184.9" stroke="#e4e4e4" stroke-width="1.6"/>
<ellipse cx="378.7" cy="538.2" rx="17.2" ry="20.5" fill="url(#gse)"/>
<ellipse cx="384" cy="531.4" rx="5.2" ry="3.4" transform="rotate(28 384 531.4)" fill="url(#ghl)"/>
<ellipse cx="283.9" cy="314.6" rx="13.9" ry="16.5" fill="url(#gpb)"/>
<ellipse cx="288.2" cy="309.1" rx="4.2" ry="2.8" transform="rotate(28 288.2 309.1)" fill="url(#ghl)"/>
<ellipse cx="189.1" cy="91" rx="17.2" ry="20.5" fill="url(#gse)"/>
<ellipse cx="194.4" cy="84.2" rx="5.2" ry="3.4" transform="rotate(28 194.4 84.2)" fill="url(#ghl)"/>
<ellipse cx="583.9" cy="196.1" rx="17.2" ry="20.5" fill="url(#gse)"/>
<ellipse cx="589.2" cy="189.3" rx="5.2" ry="3.4" transform="rotate(28 589.2 189.3)" fill="url(#ghl)"/>
<path d="M566 541.6L585.4 529.1" stroke="#b8b8b8" stroke-width="5.2"/>
<path d="M565.5 540.8L584.9 528.3" stroke="#f0f0f0" stroke-width="2.6"/>
<path d="M377.3 444.2L378.4 518" stroke="#c4c4c4" stroke-width="5.4"/>
<path d="M375.9 444.3L377 518" stroke="#7c7c7c" stroke-width="1.8"/>
<path d="M378.8 444.2L379.9 518" stroke="#e4e4e4" stroke-width="1.6"/>
<path d="M376.4 94.4L395.8 81.9" stroke="#b8b8b8" stroke-width="5.2"/>
<path d="M375.9 93.6L395.3 81.1" stroke="#f0f0f0" stroke-width="2.6"/>
<path d="M395.2 538.7L457 540.8" stroke="#c4c4c4" stroke-width="5.4"/>
<path d="M395.2 540.1L456.9 542.2" stroke="#7c7c7c" stroke-width="1.8"/>
<path d="M395.3 537.2L457 539.3" stroke="#e4e4e4" stroke-width="1.6"/>
<ellipse cx="377.1" cy="427.9" rx="13.9" ry="16.5" fill="url(#gpb)"/>
<ellipse cx="381.4" cy="422.4" rx="4.2" ry="2.8" transform="rotate(28 381.4 422.4)" fill="url(#ghl)"/>
<path d="M297.2 315L359 317.1" stroke="#c4c4c4" stroke-width="5.4"/>
<path d="M297.2 316.4L358.9 318.5" stroke="#7c7c7c" stroke-width="1.8"/>
<path d="M297.3 313.5L359 315.6" stroke="#e4e4e4" stroke-width="1.6"/>
<ellipse cx="282.3" cy="204.3" rx="17.2" ry="20.5" fill="url(#gse)"/>
<ellipse cx="287.6" cy="197.5" rx="5.2" ry="3.4" transform="rotate(28 287.6 197.5)" fill="url(#ghl)"/>
<path d="M205.6 91.5L267.4 93.6" stroke="#c4c4c4" stroke-width="5.4"/>
<path d="M205.6 92.9L267.3 95" stroke="#7c7c7c" stroke-width="1.8"/>
<path d="M205.7 90L267.4 92.1" stroke="#e4e4e4" stroke-width="1.6"/>
<ellipse cx="582.2" cy="85.8" rx="13.9" ry="16.5" fill="url(#gpb)"/>
<ellipse cx="586.6" cy="80.3" rx="4.2" ry="2.8" transform="rotate(28 586.6 80.3)" fill="url(#ghl)"/>
<path d="M375.8 337.8L376.9 411.6" stroke="#c4c4c4" stroke-width="5.4"/>
<path d="M374.4 337.8L375.5 411.6" stroke="#7c7c7c" stroke-width="1.8"/>
<path d="M377.3 337.8L378.4 411.5" stroke="#e4e4e4" stroke-width="1.6"/>
<ellipse cx="470.3" cy="541.2" rx="13.9" ry="16.5" fill="url(#gpb)"/>
<ellipse cx="474.6" cy="535.7" rx="4.2" ry="2.8" transform="rotate(28 474.6 535.7)" fill="url(#ghl)"/>
<ellipse cx="375.5" cy="317.6" rx="17.2" ry="20.5" fill="url(#gse)"/>
<ellipse cx="380.8" cy="310.8" rx="5.2" ry="3.4" transform="rotate(28 380.8 310.8)" fill="url(#ghl)"/>
<ellipse cx="280.7" cy="94" rx="13.9" ry="16.5" fill="url(#gpb)"/>
<ellipse cx="285" cy="88.5" rx="4.2" ry="2.8" transform="rotate(28 285 88.5)" fill="url(#ghl)"/>
<path d="M562.8 321L582.2 308.5" stroke="#b8b8b8" stroke-width="5.2"/>
<path d="M562.3 320.2L581.7 307.7" stroke="#f0f0f0" stroke-width="2.6"/>
<path d="M374.1 223.6L375.2 297.4" stroke="#c4c4c4" stroke-width="5.4"/>
<path d="M372.7 223.7L373.8 297.4" stroke="#7c7c7c" stroke-width="1.8"/>
<path d="M375.6 223.6L376.7 297.4" stroke="#e4e4e4" stroke-width="1.6"/>
<path d="M483.6 541.6L545.4 543.7" stroke="#c4c4c4" stroke-width="5.4"/>
<path d="M483.6 543L545.3 545.1" stroke="#7c7c7c" stroke-width="1.8"/>
<path d="M483.7 540.1L545.4 542.2" stroke="#e4e4e4" stroke-width="1.6"/>
<ellipse cx="468.7" cy="430.9" rx="17.2" ry="20.5" fill="url(#gse)"/>
<ellipse cx="474" cy="424.1" rx="5.2" ry="3.4" transform="rotate(28 474 424.1)" fill="url(#ghl)"/>
<path d="M392 318.1L453.8 320.2" stroke="#c4c4c4" stroke-width="5.4"/>
<path d="M392 319.5L453.7 321.6" stroke="#7c7c7c" stroke-width="1.8"/>
<path d="M392.1 316.6L453.8 318.7" stroke="#e4e4e4" stroke-width="1.6"/>
<ellipse cx="373.9" cy="207.3" rx="13.9" ry="16.5" fill="url(#gpb)"/>
<ellipse cx="378.2" cy="201.8" rx="4.2" ry="2.8" transform="rotate(28 378.2 201.8)" fill="url(#ghl)"/>
<path d="M294 94.4L355.8 96.5" stroke="#c4c4c4" stroke-width="5.4"/>
<path d="M294 95.8L355.7 97.9" stroke="#7c7c7c" stroke-width="1.8"/>
<path d="M294.1 92.9L355.8 95" stroke="#e4e4e4" stroke-width="1.6"/>
<path d="M372.6 117.2L373.7 191" stroke="#c4c4c4" stroke-width="5.4"/>
<path d="M371.2 117.2L372.3 191" stroke="#7c7c7c" stroke-width="1.8"/>
<path d="M374.1 117.2L375.2 190.9" stroke="#e4e4e4" stroke-width="1.6"/>
<ellipse cx="561.9" cy="544.2" rx="17.2" ry="20.5" fill="url(#gse)"/>
<ellipse cx="567.2" cy="537.4" rx="5.2" ry="3.4" transform="rotate(28 567.2 537.4)" fill="url(#ghl)"/>
<ellipse cx="467.1" cy="320.6" rx="13.9" ry="16.5" fill="url(#gpb)"/>
<ellipse cx="471.4" cy="315.1" rx="4.2" ry="2.8" transform="rotate(28 471.4 315.1)" fill="url(#ghl)"/>
<ellipse cx="372.3" cy="97" rx="17.2" ry="20.5" fill="url(#gse)"/>
<ellipse cx="377.6" cy="90.2" rx="5.2" ry="3.4" transform="rotate(28 377.6 90.2)" fill="url(#ghl)"/>
<path d="M560.5 450.2L561.6 524" stroke="#c4c4c4" stroke-width="5.4"/>
<path d="M559.1 450.3L560.2 524" stroke="#7c7c7c" stroke-width="1.8"/>
<path d="M562 450.2L563.1 524" stroke="#e4e4e4" stroke-width="1.6"/>
<path d="M559.6 100.4L579 87.9" stroke="#b8b8b8" stroke-width="5.2"/>
<path d="M559.1 99.6L578.5 87.1" stroke="#f0f0f0" stroke-width="2.6"/>
<ellipse cx="560.3" cy="433.9" rx="13.9" ry="16.5" fill="url(#gpb)"/>
<ellipse cx="564.6" cy="428.4" rx="4.2" ry="2.8" transform="rotate(28 564.6 428.4)" fill="url(#ghl)"/>
<path d="M480.4 321L542.2 323.1" stroke="#c4c4c4" stroke-width="5.4"/>
<path d="M480.4 322.4L542.1 324.5" stroke="#7c7c7c" stroke-width="1.8"/>
<path d="M480.5 319.5L542.2 321.6" stroke="#e4e4e4" stroke-width="1.6"/>
<ellipse cx="465.5" cy="210.3" rx="17.2" ry="20.5" fill="url(#gse)"/>
<ellipse cx="470.8" cy="203.5" rx="5.2" ry="3.4" transform="rotate(28 470.8 203.5)" fill="url(#ghl)"/>
<path d="M388.8 97.5L450.6 99.6" stroke="#c4c4c4" stroke-width="5.4"/>
<path d="M388.8 98.9L450.5 101" stroke="#7c7c7c" stroke-width="1.8"/>
<path d="M388.9 96L450.6 98.1" stroke="#e4e4e4" stroke-width="1.6"/>
<path d="M559 343.8L560.1 417.6" stroke="#c4c4c4" stroke-width="5.4"/>
<path d="M557.6 343.8L558.7 417.6" stroke="#7c7c7c" stroke-width="1.8"/>
<path d="M560.5 343.8L561.6 417.5" stroke="#e4e4e4" stroke-width="1.6"/>
<ellipse cx="558.7" cy="323.6" rx="17.2" ry="20.5" fill="url(#gse)"/>
<ellipse cx="564" cy="316.8" rx="5.2" ry="3.4" transform="rotate(28 564 316.8)" fill="url(#ghl)"/>
<ellipse cx="463.9" cy="100" rx="13.9" ry="16.5" fill="url(#gpb)"/>
<ellipse cx="468.2" cy="94.5" rx="4.2" ry="2.8" transform="rotate(28 468.2 94.5)" fill="url(#ghl)"/>
<path d="M557.3 229.6L558.4 303.4" stroke="#c4c4c4" stroke-width="5.4"/>
<path d="M555.9 229.7L557 303.4" stroke="#7c7c7c" stroke-width="1.8"/>
<path d="M558.8 229.6L559.9 303.4" stroke="#e4e4e4" stroke-width="1.6"/>
<ellipse cx="557.1" cy="213.3" rx="13.9" ry="16.5" fill="url(#gpb)"/>
<ellipse cx="561.4" cy="207.8" rx="4.2" ry="2.8" transform="rotate(28 561.4 207.8)" fill="url(#ghl)"/>
<path d="M477.2 100.4L539 102.5" stroke="#c4c4c4" stroke-width="5.4"/>
<path d="M477.2 101.8L538.9 103.9" stroke="#7c7c7c" stroke-width="1.8"/>
<path d="M477.3 98.9L539 101" stroke="#e4e4e4" stroke-width="1.6"/>
<path d="M555.8 123.2L556.9 197" stroke="#c4c4c4" stroke-width="5.4"/>
<path d="M554.4 123.2L555.5 197" stroke="#7c7c7c" stroke-width="1.8"/>
<path d="M557.3 123.2L558.4 196.9" stroke="#e4e4e4" stroke-width="1.6"/>
<ellipse cx="555.5" cy="103" rx="17.2" ry="20.5" fill="url(#gse)"/>
<ellipse cx="560.8" cy="96.2" rx="5.2" ry="3.4" transform="rotate(28 560.8 96.2)" fill="url(#ghl)"/>
</g>
<text x="6" y="43" font-family='"Liberation Sans", sans-serif' font-size="50" text-anchor="start" font-weight="bold" >a</text>
<ellipse cx="56" cy="270.8" rx="15.9" ry="18.7" fill="url(#gpb)"/>
<ellipse cx="56" cy="326.7" rx="15.9" ry="18.6" fill="url(#gse)"/>
<g transform="translate(74,285.5) scale(1,1.17)">
<text x="0" y="0" font-family='"Liberation Sans", sans-serif' font-size="42.5" text-anchor="start" font-weight="normal" >Pb</text>
</g>
<g transform="translate(74,341.5) scale(1,1.17)">
<text x="0" y="0" font-family='"Liberation Sans", sans-serif' font-size="42.5" text-anchor="start" font-weight="normal" >Se</text>
</g>
<text x="491.4" y="139.1" font-family='"Liberation Sans", sans-serif' font-size="37.8" text-anchor="start" font-weight="normal" >Na</text>
<text x="315.5" y="353.5" font-family='"Liberation Sans", sans-serif' font-size="38.5" text-anchor="start" font-weight="normal" >Ag</text>
<text x="500.8" y="359" font-family='"Liberation Sans", sans-serif' font-size="38.5" text-anchor="start" font-weight="normal" >In</text>
<path d="M57.2 524 L56.8 461" stroke="#333" stroke-width="1.3" fill="none"/>
<path d="M57.2 524 L110 526.3" stroke="#333" stroke-width="1.3" fill="none"/>
<path d="M57.2 524 L46 531" stroke="#333" stroke-width="1.3" fill="none"/>
<path d="M56.3 432.6 L48.8 460.8 L64.3 460.8 Z" fill="#000"/>
<path d="M132.6 527 L109.7 517.2 L109.7 535.5 Z" fill="#000"/>
<ellipse cx="41.9" cy="534.7" rx="7.6" ry="9.1" fill="#000"/>
<g transform="translate(44,422.7) scale(1,1.18)">
<text x="0" y="0" font-family='"Liberation Sans", sans-serif' font-size="45" text-anchor="start" font-weight="normal" >c</text>
</g>
<g transform="translate(7,549.5) scale(1,1.18)">
<text x="0" y="0" font-family='"Liberation Sans", sans-serif' font-size="45" text-anchor="start" font-weight="normal" >a</text>
</g>
<g transform="translate(148,535.5) scale(1,1.07)">
<text x="0" y="0" font-family='"Liberation Sans", sans-serif' font-size="45" text-anchor="start" font-weight="normal" >b</text>
</g>
<g fill="none" stroke-linejoin="round">
<path d="M793.5 412.4L829.8 412.4L836 412.1L837 411.7L837.5 410.8L838.8 403.7L840.1 410.5L840.6 411.6L841.5 412.1L847.3 412.3L864.6 412.2L868.8 411.8L870 411.4L870.9 410.9L871.8 409.8L872.4 408.2L873 402.3L873.4 389.7L874.1 352.8L874.4 346.4L874.7 352.8L875.5 393.1L876.1 405.9L876.5 408.6L877.3 410.3L878.6 411.4L880.7 411.9L884.5 412.2L892.2 412.3L948.7 412.4L973.8 412.3L978.2 412.2L980.8 411.9L982.1 411.5L982.9 411L983.4 410.2L983.8 408.9L984.5 404.5L985.6 393.8L986 392.4L986.4 394.5L987.6 405.9L988.5 410L989 410.9L989.9 411.5L991.4 411.9L993.7 412.2L1017.1 412.4L1049.2 412.2L1050.7 412L1051.7 411.4L1052.4 410.4L1053.5 408.1L1054 407.7L1054.4 408.1L1055.7 410.6L1056.5 411.5L1057.5 412L1059.4 412.2L1067.7 412.3L1071.4 412L1072.1 411.7L1072.7 411.1L1074.3 408.2L1074.9 407.7L1075.3 408L1076.6 410.4L1077.4 411.5L1078.3 412L1080.1 412.2L1123.8 412.4L1145.4 412.1L1148.4 411.7L1149.2 411.3L1149.8 410.7L1150.9 408.4L1152.4 402.8L1152.9 402L1153.5 402.8L1155 408.4L1156 410.7L1156.7 411.3L1157.5 411.7L1160.7 412.2L1171.9 412.4L1201.5 412.3L1204.3 412.1L1207.3 411.3L1211.2 412.2L1218.4 412L1220.1 411.6L1221.3 410.7L1222.3 409.1L1223.8 405.4L1224.4 404.8L1225 405.4L1226.6 409.3L1227.7 410.9L1229 411.8L1231.3 412.1L1248 412.4L1286.2 412.2L1288.1 412L1289.3 411.6L1290.3 411L1292 409.4L1292.7 409.1L1293.4 409.4L1295.9 411.6L1296.9 411.9L1298.2 412.2L1304.9 412.3L1326.9 412.4" stroke="#000000" stroke-width="2.8"/>
<path d="M793.5 364.3L829.8 364.3L836 364L837 363.7L837.5 362.9L838.8 356.7L840.1 362.7L840.6 363.6L841.5 364L847.6 364.2L864.7 364.1L868.8 363.7L870 363.3L870.9 362.8L871.8 361.7L872.4 360.1L873 354.2L873.4 341.6L874.1 304.7L874.4 298.3L874.7 304.7L875.5 345L876.1 357.8L876.5 360.5L877.3 362.2L878.6 363.3L880.7 363.8L888.1 364.2L911.6 364.3L970 364.3L977.2 364.2L980.7 363.9L982 363.6L982.8 363.3L983.3 362.7L983.7 361.7L984.4 359.1L985.5 350L986 348.3L986.4 350L987.6 359.1L988.5 362.4L989 363.1L989.9 363.6L993.7 364.1L1019.1 364.3L1049.2 364.1L1050.7 363.9L1051.7 363.4L1052.4 362.6L1053.5 360.6L1054 360.3L1054.4 360.6L1055.7 362.7L1056.5 363.6L1057.5 364L1059.5 364.2L1067.7 364.2L1071.4 363.9L1072.7 363.2L1074.3 360.7L1074.9 360.3L1075.3 360.6L1076.6 362.6L1077.4 363.5L1078.3 363.9L1080.1 364.1L1128.9 364.3L1145.5 364L1148.4 363.4L1149.2 362.9L1149.8 362.1L1150.9 359.1L1152.4 351.9L1152.9 350.9L1153.5 351.9L1155 359.1L1156 362.1L1156.7 362.9L1157.5 363.4L1160.7 364L1171.3 364.2L1201.4 364.2L1204.3 364L1207.3 363.3L1211.2 364.1L1218.4 364L1220.1 363.7L1221.3 363.1L1222.3 361.9L1223.8 359.3L1224.4 358.9L1225 359.3L1226.6 362.1L1227.7 363.3L1229 363.8L1231.3 364.1L1249.6 364.3L1286.2 364.2L1288.1 364L1289.3 363.7L1292 361.8L1292.7 361.6L1293.4 361.8L1295.9 363.6L1298.2 364.1L1326.9 364.3" stroke="#ff0000" stroke-width="2.8"/>
<path d="M793.5 316.3L829.8 316.3L833.9 316.2L836 315.9L837 315.5L837.5 314.4L838.8 305.7L840.1 314L840.6 315.4L841.5 315.9L843.3 316.1L846.9 316.2L864.4 316.1L868.7 315.7L870 315.4L870.9 314.8L871.8 313.7L872.4 312.1L873 306.2L873.4 293.6L874.1 256.7L874.4 250.3L874.7 256.7L875.5 297L876.1 309.8L876.5 312.5L877.3 314.2L878.6 315.3L880.7 315.8L884.6 316.1L892.5 316.2L952.4 316.3L974.2 316.2L978.3 316L980.8 315.8L982.1 315.4L982.9 314.8L983.4 314L983.8 312.6L984.5 308L985.6 296.8L986 295.3L986.4 297.5L987.6 309.5L988.5 313.8L989 314.7L989.9 315.4L991.4 315.8L993.7 316L1021.5 316.3L1042.8 316.2L1049.2 316.1L1050.7 315.8L1051.7 315.1L1052.4 313.9L1053.5 311.1L1054 310.7L1054.4 311.1L1055.7 314.1L1056.5 315.3L1057.5 315.9L1059.4 316.1L1067.7 316.2L1071.4 315.8L1072.1 315.4L1072.7 314.7L1074.3 311.3L1074.9 310.7L1075.3 311.1L1076.6 314L1077.4 315.2L1078.3 315.8L1080 316.1L1088.6 316.3L1121.9 316.3L1138.6 316.2L1145.4 316L1148.4 315.5L1149.2 315.1L1149.8 314.4L1150.9 311.7L1152.4 305.4L1152.9 304.5L1153.5 305.4L1155 311.7L1156 314.4L1156.7 315.1L1157.5 315.5L1160.7 316L1172.7 316.2L1201.6 316.2L1204.3 315.9L1207.3 314.6L1209.9 315.7L1211.2 316L1214.7 316.1L1218.4 315.9L1220.1 315.5L1221.3 314.6L1222.3 312.9L1223.8 309.1L1224.4 308.5L1225 309.1L1226.6 313.1L1227.7 314.8L1229 315.6L1231.3 316L1237.7 316.2L1253.4 316.3L1278.3 316.2L1286.3 316.1L1288.1 315.8L1289.3 315.2L1290.3 314.3L1292 312.1L1292.7 311.7L1293.4 312.1L1295 314.2L1295.9 315.1L1296.9 315.7L1298.2 316L1304.9 316.2L1326.9 316.3" stroke="#0000ff" stroke-width="2.8"/>
<path d="M793.5 267.8L829.8 267.8L833.9 267.7L836 267.4L837 266.9L837.5 265.8L838.8 256.8L840.1 265.5L840.6 266.8L841.5 267.4L843.3 267.6L846.8 267.7L864.4 267.6L868.7 267.2L870 266.9L870.9 266.3L871.8 265.2L872.4 263.6L873 257.7L873.4 245.1L874.1 208.2L874.4 201.8L874.7 208.2L875.5 248.5L876.1 261.3L876.5 264L877.3 265.7L878.6 266.8L880.7 267.3L884.7 267.6L892.7 267.7L954.8 267.8L974.6 267.7L978.5 267.5L980.8 267.2L982.1 266.8L982.9 266.3L983.4 265.4L983.8 263.9L984.5 259.1L985.6 247.3L986 245.8L986.4 248.1L987.6 260.6L988.5 265.2L989 266.2L989.9 266.8L991.4 267.3L993.7 267.5L1001.4 267.7L1022.5 267.8L1042.9 267.7L1049.2 267.5L1050.7 267.3L1051.7 266.5L1052.4 265.3L1053.5 262.3L1054 261.8L1054.4 262.3L1055.7 265.5L1056.5 266.7L1057.5 267.3L1059.4 267.6L1067.7 267.6L1071.4 267.3L1072.1 266.9L1072.7 266.1L1074.3 262.4L1074.9 261.8L1075.3 262.2L1076.6 265.3L1077.4 266.6L1078.3 267.3L1080 267.6L1088.3 267.8L1120.4 267.8L1138.3 267.7L1145.4 267.5L1148.4 267L1149.2 266.6L1149.8 265.8L1150.9 263.1L1152.4 256.7L1152.9 255.8L1153.5 256.7L1155 263.1L1156 265.8L1156.7 266.5L1157.5 267L1160.7 267.5L1172.6 267.7L1201.6 267.7L1204.3 267.4L1207.3 266.2L1209.9 267.3L1211.2 267.5L1214.8 267.6L1218.4 267.4L1220.1 267L1221.3 266L1222.3 264.3L1223.8 260.4L1224.4 259.8L1225 260.4L1226.6 264.5L1227.7 266.3L1229 267.1L1231.3 267.5L1237.4 267.7L1251.6 267.8L1277.8 267.7L1286.2 267.6L1288.1 267.3L1289.3 266.8L1290.3 265.9L1292 263.7L1292.7 263.3L1293.4 263.7L1295 265.8L1295.9 266.6L1296.9 267.2L1298.2 267.5L1304.9 267.7L1326.9 267.8" stroke="#ff00ff" stroke-width="2.8"/>
<path d="M793.5 218.7L829.8 218.6L833.9 218.5L836 218.2L837 217.6L837.5 216.2L838.8 205L840.1 215.8L840.6 217.5L841.5 218.2L843.5 218.5L847.7 218.6L858.5 218.6L864.7 218.3L867.1 218.1L868.8 217.6L870 216.9L870.9 216L871.8 213.9L872.4 211.1L873 200.2L873.4 177.2L874.1 109.6L874.4 97.9L874.7 109.6L875.5 183.3L876.1 206.7L876.5 211.7L877.3 214.9L877.9 216L878.6 216.8L879.5 217.4L880.7 217.8L883.5 218.3L887.9 218.5L910.4 218.7L969.9 218.6L977.2 218.4L980.7 218L982 217.5L982.8 216.8L983.3 215.8L983.7 214.1L984.4 209.3L985.5 193L986 190L986.4 193L987.6 209.3L988.5 215.3L989 216.6L989.9 217.5L991.4 218L993.7 218.4L1000.6 218.6L1018.2 218.7L1042.2 218.6L1049.2 218.4L1050.7 218.1L1051.7 217.2L1052.4 215.7L1053.5 212.2L1054 211.7L1054.4 212.2L1056 216.7L1056.6 217.5L1057.3 218L1058.6 218.4L1061.2 218.5L1069.5 218.4L1071.3 218.1L1072.4 217.2L1073.2 215.6L1074.4 211.7L1074.9 211.2L1075.3 211.7L1076.6 215.6L1077.4 217.2L1078.3 218L1080 218.4L1087.5 218.6L1114.3 218.7L1137.3 218.6L1145.4 218.4L1148.4 217.8L1149.2 217.3L1149.8 216.6L1150.9 213.6L1152.4 206.7L1152.9 205.7L1153.5 206.7L1155 213.6L1156 216.6L1156.7 217.3L1157.5 217.8L1160.7 218.4L1173.2 218.6L1201.6 218.6L1204.3 218.2L1206.7 216.8L1207.3 216.6L1208 216.8L1209.9 218L1211.2 218.4L1214.7 218.5L1218.4 218.2L1220.1 217.7L1221.3 216.6L1222.3 214.5L1223.8 210L1224.4 209.2L1225 210L1226.6 214.8L1227.7 216.9L1229 217.9L1231.3 218.3L1237.6 218.6L1252.9 218.7L1278.2 218.6L1286.3 218.4L1288.1 218.1L1289.3 217.4L1290.3 216.4L1292 213.7L1292.7 213.2L1293.4 213.7L1295 216.2L1295.9 217.3L1296.9 217.9L1298.2 218.3L1304.9 218.6L1326.9 218.7" stroke="#008000" stroke-width="2.8"/>
</g>
<path d="M838.5 484.7V445.7" stroke="#000" stroke-width="2"/>
<path d="M874 484.7V420" stroke="#000" stroke-width="2"/>
<path d="M985.4 484.7V429" stroke="#000" stroke-width="2"/>
<path d="M1053.3 484.7V452.3" stroke="#000" stroke-width="2"/>
<path d="M1074.5 484.7V449" stroke="#000" stroke-width="2"/>
<path d="M1152.3 484.7V454.6" stroke="#000" stroke-width="2"/>
<path d="M1205.7 484.7V456.8" stroke="#000" stroke-width="2"/>
<path d="M1224.1 484.7V445.7" stroke="#000" stroke-width="2"/>
<path d="M1292 484.7V449" stroke="#000" stroke-width="2"/>
<rect x="793" y="25" width="533.7" height="459.7" fill="none" stroke="#000" stroke-width="2"/>
<path d="M793.5 484.7v9" stroke="#000" stroke-width="2"/>
<path d="M838 484.7v5" stroke="#000" stroke-width="2"/>
<path d="M882.4 484.7v9" stroke="#000" stroke-width="2"/>
<path d="M926.9 484.7v5" stroke="#000" stroke-width="2"/>
<path d="M971.3 484.7v9" stroke="#000" stroke-width="2"/>
<path d="M1015.8 484.7v5" stroke="#000" stroke-width="2"/>
<path d="M1060.2 484.7v9" stroke="#000" stroke-width="2"/>
<path d="M1104.7 484.7v5" stroke="#000" stroke-width="2"/>
<path d="M1149.1 484.7v9" stroke="#000" stroke-width="2"/>
<path d="M1193.5 484.7v5" stroke="#000" stroke-width="2"/>
<path d="M1238 484.7v9" stroke="#000" stroke-width="2"/>
<path d="M1282.5 484.7v5" stroke="#000" stroke-width="2"/>
<path d="M1326.9 484.7v9" stroke="#000" stroke-width="2"/>
<text x="793" y="533.8" font-family='"Liberation Sans", sans-serif' font-size="46" text-anchor="middle" font-weight="normal" >20</text>
<text x="881.9" y="533.8" font-family='"Liberation Sans", sans-serif' font-size="46" text-anchor="middle" font-weight="normal" >30</text>
<text x="970.8" y="533.8" font-family='"Liberation Sans", sans-serif' font-size="46" text-anchor="middle" font-weight="normal" >40</text>
<text x="1059.7" y="533.8" font-family='"Liberation Sans", sans-serif' font-size="46" text-anchor="middle" font-weight="normal" >50</text>
<text x="1148.6" y="533.8" font-family='"Liberation Sans", sans-serif' font-size="46" text-anchor="middle" font-weight="normal" >60</text>
<text x="1237.5" y="533.8" font-family='"Liberation Sans", sans-serif' font-size="46" text-anchor="middle" font-weight="normal" >70</text>
<text x="1326.4" y="533.8" font-family='"Liberation Sans", sans-serif' font-size="46" text-anchor="middle" font-weight="normal" >80</text>
<text x="958.6" y="577.2" font-family='"Liberation Sans", sans-serif' font-size="48.3">2<tspan font-family='"Liberation Serif", serif'>&#920;</tspan> (deg.)</text>
<text transform="translate(768.8,395.5) rotate(-90)" font-family='"Liberation Sans", sans-serif' font-size="47.5">Intensity (a. u.)</text>
<text transform="translate(839.5,181.8) rotate(-90)" font-family='"Liberation Sans", sans-serif' font-size="24" dominant-baseline="central">(111)</text>
<text transform="translate(874.5,93.8) rotate(-90)" font-family='"Liberation Sans", sans-serif' font-size="24" dominant-baseline="central">(002)</text>
<text transform="translate(984.5,181.8) rotate(-90)" font-family='"Liberation Sans", sans-serif' font-size="24" dominant-baseline="central">(022)</text>
<text transform="translate(1051.4,182.1) rotate(-90)" font-family='"Liberation Sans", sans-serif' font-size="24" dominant-baseline="central">(113)</text>
<text transform="translate(1079.4,182.1) rotate(-90)" font-family='"Liberation Sans", sans-serif' font-size="24" dominant-baseline="central">(222)</text>
<text transform="translate(1152,180) rotate(-90)" font-family='"Liberation Sans", sans-serif' font-size="24" dominant-baseline="central">(004)</text>
<text transform="translate(1203.9,177.9) rotate(-90)" font-family='"Liberation Sans", sans-serif' font-size="24" dominant-baseline="central">(133)</text>
<text transform="translate(1229.9,177.9) rotate(-90)" font-family='"Liberation Sans", sans-serif' font-size="24" dominant-baseline="central">(024)</text>
<text transform="translate(1291.1,177.9) rotate(-90)" font-family='"Liberation Sans", sans-serif' font-size="24" dominant-baseline="central">(224)</text>
<text x="1160.5" y="206.3" font-family='"Liberation Sans", sans-serif' font-size="23" text-anchor="start" font-weight="normal" letter-spacing="0.6">x=2</text>
<text x="1160.5" y="255.3" font-family='"Liberation Sans", sans-serif' font-size="23" text-anchor="start" font-weight="normal" letter-spacing="0.6">x=1.5</text>
<text x="1160.5" y="302.9" font-family='"Liberation Sans", sans-serif' font-size="23" text-anchor="start" font-weight="normal" letter-spacing="0.6">x=1</text>
<text x="1160" y="350.5" font-family='"Liberation Sans", sans-serif' font-size="23" text-anchor="start" font-weight="normal" letter-spacing="0.6">x=0.5</text>
<text x="1160.5" y="402" font-family='"Liberation Sans", sans-serif' font-size="23" text-anchor="start" font-weight="normal" letter-spacing="0.6">x=0</text>
<text x="990.5" y="67.8" font-family='"Liberation Sans", sans-serif' font-size="27.8">Pb<tspan font-size="16.5" dy="8.8">0.98</tspan><tspan dy="-8.8">Na</tspan><tspan font-size="16.5" dy="8.8">0.02</tspan><tspan dy="-8.8">Se-x%AgInSe</tspan><tspan font-size="16.5" dy="8.8">2</tspan></text>
<text x="720" y="45" font-family='"Liberation Sans", sans-serif' font-size="50" text-anchor="start" font-weight="bold" >b</text>
<rect x="154.7" y="611.3" width="534.9" height="459.9" fill="none" stroke="#000" stroke-width="2"/>
<path d="M178.6 611.3v9" stroke="#000" stroke-width="2"/>
<path d="M178.6 1071.2v9" stroke="#000" stroke-width="2"/>
<path d="M239.4 611.3v5" stroke="#000" stroke-width="2"/>
<path d="M239.4 1071.2v5" stroke="#000" stroke-width="2"/>
<path d="M300.2 611.3v9" stroke="#000" stroke-width="2"/>
<path d="M300.2 1071.2v9" stroke="#000" stroke-width="2"/>
<path d="M361 611.3v5" stroke="#000" stroke-width="2"/>
<path d="M361 1071.2v5" stroke="#000" stroke-width="2"/>
<path d="M421.8 611.3v9" stroke="#000" stroke-width="2"/>
<path d="M421.8 1071.2v9" stroke="#000" stroke-width="2"/>
<path d="M482.6 611.3v5" stroke="#000" stroke-width="2"/>
<path d="M482.6 1071.2v5" stroke="#000" stroke-width="2"/>
<path d="M543.4 611.3v9" stroke="#000" stroke-width="2"/>
<path d="M543.4 1071.2v9" stroke="#000" stroke-width="2"/>
<path d="M604.2 611.3v5" stroke="#000" stroke-width="2"/>
<path d="M604.2 1071.2v5" stroke="#000" stroke-width="2"/>
<path d="M665 611.3v9" stroke="#000" stroke-width="2"/>
<path d="M665 1071.2v9" stroke="#000" stroke-width="2"/>
<path d="M154.7 1071.2h9" stroke="#000" stroke-width="2"/>
<path d="M689.6 1071.2h-9" stroke="#000" stroke-width="2"/>
<path d="M154.7 1025.2h5" stroke="#000" stroke-width="2"/>
<path d="M689.6 1025.2h-5" stroke="#000" stroke-width="2"/>
<path d="M154.7 979.2h9" stroke="#000" stroke-width="2"/>
<path d="M689.6 979.2h-9" stroke="#000" stroke-width="2"/>
<path d="M154.7 933.2h5" stroke="#000" stroke-width="2"/>
<path d="M689.6 933.2h-5" stroke="#000" stroke-width="2"/>
<path d="M154.7 887.2h9" stroke="#000" stroke-width="2"/>
<path d="M689.6 887.2h-9" stroke="#000" stroke-width="2"/>
<path d="M154.7 841.2h5" stroke="#000" stroke-width="2"/>
<path d="M689.6 841.2h-5" stroke="#000" stroke-width="2"/>
<path d="M154.7 795.2h9" stroke="#000" stroke-width="2"/>
<path d="M689.6 795.2h-9" stroke="#000" stroke-width="2"/>
<path d="M154.7 749.2h5" stroke="#000" stroke-width="2"/>
<path d="M689.6 749.2h-5" stroke="#000" stroke-width="2"/>
<path d="M154.7 703.2h9" stroke="#000" stroke-width="2"/>
<path d="M689.6 703.2h-9" stroke="#000" stroke-width="2"/>
<path d="M154.7 657.2h5" stroke="#000" stroke-width="2"/>
<path d="M689.6 657.2h-5" stroke="#000" stroke-width="2"/>
<path d="M154.7 611.2h9" stroke="#000" stroke-width="2"/>
<path d="M689.6 611.2h-9" stroke="#000" stroke-width="2"/>
<text x="145" y="1084.6" font-family='"Liberation Sans", sans-serif' font-size="44.2" text-anchor="end" font-weight="normal" >6.09</text>
<text x="145" y="992.6" font-family='"Liberation Sans", sans-serif' font-size="44.2" text-anchor="end" font-weight="normal" >6.10</text>
<text x="145" y="900.6" font-family='"Liberation Sans", sans-serif' font-size="44.2" text-anchor="end" font-weight="normal" >6.11</text>
<text x="145" y="808.6" font-family='"Liberation Sans", sans-serif' font-size="44.2" text-anchor="end" font-weight="normal" >6.12</text>
<text x="145" y="716.6" font-family='"Liberation Sans", sans-serif' font-size="44.2" text-anchor="end" font-weight="normal" >6.13</text>
<text x="145" y="624.6" font-family='"Liberation Sans", sans-serif' font-size="44.2" text-anchor="end" font-weight="normal" >6.14</text>
<text x="178.6" y="1120" font-family='"Liberation Sans", sans-serif' font-size="45" text-anchor="middle" font-weight="normal" >0.0</text>
<text x="300.2" y="1120" font-family='"Liberation Sans", sans-serif' font-size="45" text-anchor="middle" font-weight="normal" >0.5</text>
<text x="421.8" y="1120" font-family='"Liberation Sans", sans-serif' font-size="45" text-anchor="middle" font-weight="normal" >1.0</text>
<text x="543.4" y="1120" font-family='"Liberation Sans", sans-serif' font-size="45" text-anchor="middle" font-weight="normal" >1.5</text>
<text x="665" y="1120" font-family='"Liberation Sans", sans-serif' font-size="45" text-anchor="middle" font-weight="normal" >2.0</text>
<text x="208" y="1164" font-family='"Liberation Sans", sans-serif' font-size="47.6">AgInSe<tspan font-size="29" dy="14">2</tspan><tspan dy="-14"> content (%)</tspan></text>
<text transform="translate(45.6,891) rotate(-90)" font-family='"Liberation Sans", sans-serif' font-size="46">a (&#197;)</text>
<text x="6" y="609.3" font-family='"Liberation Sans", sans-serif' font-size="50" text-anchor="start" font-weight="bold" >c</text>
<circle cx="179.1" cy="833.6" r="8.8" fill="#0000ff"/>
<path d="M173.6 829.6 a6 6 0 0 0 6 6" stroke="#c8c8ff" stroke-width="2.5" fill="none" opacity="0.9"/>
<path d="M174.6 828.6h5" stroke="#b0b0ff" stroke-width="2" fill="none"/>
<circle cx="300.5" cy="851.5" r="8.8" fill="#0000ff"/>
<path d="M295 847.5 a6 6 0 0 0 6 6" stroke="#c8c8ff" stroke-width="2.5" fill="none" opacity="0.9"/>
<path d="M296 846.5h5" stroke="#b0b0ff" stroke-width="2" fill="none"/>
<circle cx="422.1" cy="840.5" r="8.8" fill="#0000ff"/>
<path d="M416.6 836.5 a6 6 0 0 0 6 6" stroke="#c8c8ff" stroke-width="2.5" fill="none" opacity="0.9"/>
<path d="M417.6 835.5h5" stroke="#b0b0ff" stroke-width="2" fill="none"/>
<circle cx="543.9" cy="841.5" r="8.8" fill="#0000ff"/>
<path d="M538.4 837.5 a6 6 0 0 0 6 6" stroke="#c8c8ff" stroke-width="2.5" fill="none" opacity="0.9"/>
<path d="M539.4 836.5h5" stroke="#b0b0ff" stroke-width="2" fill="none"/>
<circle cx="665.5" cy="866.8" r="8.8" fill="#0000ff"/>
<path d="M660 862.8 a6 6 0 0 0 6 6" stroke="#c8c8ff" stroke-width="2.5" fill="none" opacity="0.9"/>
<path d="M661 861.8h5" stroke="#b0b0ff" stroke-width="2" fill="none"/>
<path d="M180.8 833.6L672.2 861.9" stroke="#ff0000" stroke-width="2.6" stroke-dasharray="7.3 5.7" fill="none"/>
<rect x="789" y="613.8" width="534.6" height="456.2" fill="none" stroke="#000" stroke-width="2"/>
<path d="M789 841.7H1323.6" stroke="#000" stroke-width="2"/>
<path d="M789 1070v6" stroke="#000" stroke-width="2"/>
<path d="M789 841.7v6" stroke="#000" stroke-width="2"/>
<path d="M842.5 1070v3.5" stroke="#000" stroke-width="2"/>
<path d="M842.5 841.7v3.5" stroke="#000" stroke-width="2"/>
<path d="M895.9 1070v6" stroke="#000" stroke-width="2"/>
<path d="M895.9 841.7v6" stroke="#000" stroke-width="2"/>
<path d="M949.4 1070v3.5" stroke="#000" stroke-width="2"/>
<path d="M949.4 841.7v3.5" stroke="#000" stroke-width="2"/>
<path d="M1002.8 1070v6" stroke="#000" stroke-width="2"/>
<path d="M1002.8 841.7v6" stroke="#000" stroke-width="2"/>
<path d="M1056.3 1070v3.5" stroke="#000" stroke-width="2"/>
<path d="M1056.3 841.7v3.5" stroke="#000" stroke-width="2"/>
<path d="M1109.8 1070v6" stroke="#000" stroke-width="2"/>
<path d="M1109.8 841.7v6" stroke="#000" stroke-width="2"/>
<path d="M1163.2 1070v3.5" stroke="#000" stroke-width="2"/>
<path d="M1163.2 841.7v3.5" stroke="#000" stroke-width="2"/>
<path d="M1216.7 1070v6" stroke="#000" stroke-width="2"/>
<path d="M1216.7 841.7v6" stroke="#000" stroke-width="2"/>
<path d="M1270.1 1070v3.5" stroke="#000" stroke-width="2"/>
<path d="M1270.1 841.7v3.5" stroke="#000" stroke-width="2"/>
<path d="M1323.6 1070v6" stroke="#000" stroke-width="2"/>
<path d="M1323.6 841.7v6" stroke="#000" stroke-width="2"/>
<text x="789" y="1109.8" font-family='"Liberation Sans", sans-serif' font-size="38.8" text-anchor="middle" font-weight="normal" >0.1</text>
<text x="895.9" y="1109.8" font-family='"Liberation Sans", sans-serif' font-size="38.8" text-anchor="middle" font-weight="normal" >0.2</text>
<text x="1002.8" y="1109.8" font-family='"Liberation Sans", sans-serif' font-size="38.8" text-anchor="middle" font-weight="normal" >0.3</text>
<text x="1109.8" y="1109.8" font-family='"Liberation Sans", sans-serif' font-size="38.8" text-anchor="middle" font-weight="normal" >0.4</text>
<text x="1216.7" y="1109.8" font-family='"Liberation Sans", sans-serif' font-size="38.8" text-anchor="middle" font-weight="normal" >0.5</text>
<text x="1323.6" y="1109.8" font-family='"Liberation Sans", sans-serif' font-size="38.8" text-anchor="middle" font-weight="normal" >0.6</text>
<text x="989.8" y="1154.8" font-family='"Liberation Sans", sans-serif' font-size="46.3" text-anchor="start" font-weight="normal" >E (eV)</text>
<text transform="translate(764.6,989.4) rotate(-90)" font-family='"Liberation Sans", sans-serif' font-size="38.4"><tspan font-family='"Liberation Serif", serif' font-size="44">&#945;</tspan>/S (Normalized)</text>
<text x="721" y="608.9" font-family='"Liberation Sans", sans-serif' font-size="50" text-anchor="start" font-weight="bold" >d</text>
<path d="M801.2 638.3H853.4" stroke="#000000" stroke-width="2"/>
<text x="859.7" y="646.3" font-family='"Liberation Sans", sans-serif' font-size="22.6" text-anchor="start" font-weight="normal" >x=0</text>
<path d="M801.2 666.3H853.4" stroke="#10b0f6" stroke-width="2"/>
<text x="859.7" y="674.3" font-family='"Liberation Sans", sans-serif' font-size="22.6" text-anchor="start" font-weight="normal" >x=1</text>
<path d="M801.2 694.5H853.4" stroke="#ff0000" stroke-width="2"/>
<text x="859.7" y="702.5" font-family='"Liberation Sans", sans-serif' font-size="22.6" text-anchor="start" font-weight="normal" >x=2</text>
<path d="M801.2 869.2H853.4" stroke="#f47c7c" stroke-width="2"/>
<text x="859.7" y="877.2" font-family='"Liberation Sans", sans-serif' font-size="22.6" text-anchor="start" font-weight="normal" >x=1.5</text>
<path d="M801.2 897.1H853.4" stroke="#008000" stroke-width="2"/>
<text x="859.7" y="905.1" font-family='"Liberation Sans", sans-serif' font-size="22.6" text-anchor="start" font-weight="normal" >x=2</text>
<text x="968" y="640.5" font-family='"Liberation Sans", sans-serif' font-size="23.5">PbSe-x% AgInSe<tspan font-size="15" dy="7">2</tspan></text>
<text x="963" y="870.8" font-family='"Liberation Sans", sans-serif' font-size="23.2">Pb<tspan font-size="14.5" dy="7.5">0.98</tspan><tspan dy="-7.5">Na</tspan><tspan font-size="14.5" dy="7.5">0.02</tspan><tspan dy="-7.5">Se-x% AgInSe</tspan><tspan font-size="14.5" dy="7.5">2</tspan></text>
<g fill="none" stroke-linejoin="round" stroke-width="2.6">
<path d="M845 794.3L845.8 795.4L846.6 795.3L848.2 796.6L849 795.5L849.8 795.7L850.6 798.1L851.4 796.9L852.2 797.2L853 799.5L853.8 798.4L854.6 799.7L855.4 799.1L856.2 799.8L857 798.9L858.6 801.4L859.4 800.8L860.2 801.7L861 801.8L861.8 800.6L862.6 802.7L865 801.8L865.8 804.3L866.6 803.6L868.2 805.3L869 805.2L869.8 806L870.6 804.9L871.3 806.5L872 805.6L872.7 807.5L873.4 807.6L874.1 805.4L874.8 805.8L875 790L875.5 808.7L876.2 807.3L876.9 808.2L877.6 807.4L878.3 808.3L879.7 808.4L880.4 809.4L881.1 809.6L881.8 810.8L882 776.5L882.5 811.1L883.2 811.1L883.9 811.7L885.3 809.5L886 812L887.4 812.5L888.1 811.7L888.8 812.3L889 779L889.5 812.9L891.6 811.1L892.3 813.8L893 814.5L893 800L893.7 814.1L895.1 812.4L895.8 813.1L896.5 814.8L897.2 815.4L897.9 812.9L898.6 814.9L899.3 813.3L900 815.7L900.7 814.7L901.4 754L901.8 816.6L901.4 817L902.1 815.6L902.8 817.4L903.5 815.4L904.2 814.9L904.9 816.8L905 790L905.4 815L907 817.5L907.7 745.4L908.1 816.2L907.7 815.8L908.4 818.7L909.1 817.1L909.8 819.4L910.5 819.4L911.2 818L913.3 819.6L915.4 820.2L916.2 821.2L917 820.5L917.8 820.6L918.6 821.5L919.4 820.7L920.2 821L921 822.7L921.8 821.6L922.6 821.7L923.4 820.5L925 821.9L925.8 820.6L926.6 822.1L927.4 822.2L928.2 820.9L929 822.3L929.8 821.9L930.6 822.1L931.4 820.9L932.2 821.4L933 821L933.8 818.9L934.6 818.6L935.4 819.6L936.2 819.9L937 817.8L938.6 817.8L939.4 816.7L941 815.9L942.6 815.7L943.4 814.5L944.2 814.1L945 814.5L945.8 812.2L946.6 813L947.4 812.8L949 810.5L949.8 811.4L950.6 809.6L955.1 805.7L956.6 803.4L961.1 799.4L964.1 795.4L965.6 792.1L970.1 785.4L980.6 765.2L982.1 761.4L985.1 756L991.1 743.1L994.1 739.9L995.6 737.3L1001.6 729.4L1003.1 728.1L1006.1 723.5L1007.6 722.8L1010.6 719.4L1012.1 717L1013.6 715.9L1016.6 712L1019.6 710.1L1028.6 701.3L1030.1 700.6L1031.6 698.9L1033.1 698.5L1034.6 696.6L1036.1 696.6L1042.1 692.5L1045.1 689.4L1046.6 689.3L1048.1 687.7L1051.1 686.7L1054.1 684.9L1055.6 684.8L1060.1 681.7L1061.6 681.6L1063.1 680.4L1064.6 680.1L1067.6 678.3L1070.6 677.8L1072.1 676.5L1073.6 676.6L1075.1 676.2L1078.1 674.9L1079.6 673.4L1082.6 673.3L1084.1 672L1093.1 670.6L1094.6 669.3L1100.6 667.8L1102.1 668.5L1103.6 668.1L1105.1 667L1106.6 667.3L1109.6 666.6L1112.6 666.6L1120.1 664.8L1123.1 665.1L1126.1 664L1132.1 664.1L1133.6 663.4L1135.1 663.7L1140 662.5L1149.5 661.5L1152.7 662.5L1155.2 654.2L1156.8 662.5L1161.9 650.1L1164.4 659.3L1166.7 656.1L1169.2 646L1174.3 659.9L1176.8 652.3L1179.4 641.2L1183.8 658.7L1186.3 654.2L1188.9 654.2L1193.3 644L1195.2 634.2L1197.1 651.7L1200 644.7L1201.6 656.7L1203.5 657.4L1203.6 655.7L1205.8 656.2L1208 655.2L1210.2 655.8L1214.6 654.1L1219 655.2L1221.2 653.1L1223.4 654L1225.6 653.9L1227.8 655.1L1230 655.1L1232.2 653.2L1234.4 654.6L1236.6 654.1L1238.8 652.4L1241 652.8L1243.2 651.6L1245.4 653.5L1247.6 652.9L1249.8 653.4L1254.2 652.4L1256.4 652.5L1258.6 651.8L1260.8 650.2L1263 651.5L1265.2 649.6L1267.4 649.9L1269.6 651.6L1271.8 649.2L1276.2 649.1L1278.4 651.3L1280 650" stroke="#000000"/>
<path d="M789 726.5L789.9 730.8L790.2 728.5L790.5 730.9L790.8 720.3L791.4 731.6L791.7 728.3L792 731.4L792.3 722.2L792.6 726.6L792.9 724.1L793.5 728.3L793.8 721.8L794.4 725.3L794.7 733.3L795.3 725.1L795.6 733.2L795.9 725.8L796.2 731.4L796.6 728.7L797 728.4L797.4 735L797.8 731.1L798.2 731.7L798.6 737.6L799 737.4L799.4 734.1L799.8 739.2L800.2 737L800.6 738.5L801 735.9L801.4 741.6L801.8 740.5L802.2 742.9L802.6 743.1L803 739.6L803.4 740.6L803.8 739.9L804.6 740.4L805.4 745.2L805.8 741.7L806.2 746.9L806.6 745.2L807 745.6L807.4 749.6L808.2 747.4L809 751.2L809.4 747.4L809.8 754.2L810.2 748.3L810.6 753.8L811 755.1L811.4 750L811.8 755.7L812.2 753.3L812.6 755.3L813 751.9L813.4 752.6L814.2 759.7L814.6 755L815.4 761L815.8 761.5L816.2 757.9L817.4 762.3L817.8 758.2L818.2 763.1L819 764.8L819.4 759.6L819.8 766.3L820.2 760.9L821.4 767.8L821.8 764.2L822.2 768.6L823 765.3L823.4 765.7L824.2 764.9L824.6 765.8L825.4 772.3L825.8 767.1L826.2 766.7L826.6 773.5L827 770.8L827.8 769.6L828.6 774.4L829.8 770.5L830.2 776.8L830.6 771.2L831.4 777.6L831.8 773.2L832.6 779.7L833 777.9L833.4 779.4L833.8 775.2L834.2 777.9L834.6 776.4L835 781.6L835.4 778.3L836.2 783.9L836.6 783.4L837 784.6L837.4 781.4L838.2 784L839 781.7L839.4 782.8L839.8 781.4L840.6 787.8L841 787.9L841.4 786L842.6 783.4L843.8 789.7L844.2 786.6L844.6 789.8L845 790.1L845.4 789.2L846.4 790L846.9 788.8L847.4 790.2L847.9 788.9L848.9 791.2L849.4 791.1L849.9 789.9L850.4 792.5L850.9 791.7L851.4 791.7L851.9 789.8L852.4 792L852.9 791.2L853.4 792.9L853.9 792.4L854.4 793.8L854.9 793.3L855.4 794L855.9 792.5L856.4 793.6L857.4 794.6L857.9 793L858.4 794.8L858.9 795.1L859.4 794.5L859.9 795.7L860.4 795.7L860.9 794.2L861.4 794.4L861.9 793.2L862.4 795.7L862.9 796.2L863.4 794.6L863.9 795.5L864.9 795.8L865.4 793.9L865.9 796.2L866.4 795.6L866.9 796L867.4 795.2L868.4 796.7L868.9 796.3L869.4 796.7L870.4 793.4L870.7 797.5L871.1 797.9L871.8 789.9L872.1 800.6L873.2 793.9L873.5 799.2L873.9 796.4L874.2 800.5L874.6 799.4L874.9 801.7L875.3 796.5L875.6 798.4L876.3 795.6L876.7 799.2L878.1 796L878.4 800.7L878.8 798.1L879.5 802.8L879.8 799.4L880.9 803.3L881 827L881.2 802.6L881.6 805.8L882.3 798.1L883 803.8L883.3 797.8L884 804.3L884.4 800.3L884.7 806.3L885.1 803.4L886.1 805.2L886.8 801.8L887.5 805.7L887.9 800.2L888.6 807.4L888.9 800.6L889.6 806.5L890.3 804.3L890.7 808.2L891.4 802.2L891.7 807.4L892.1 804.3L892.4 809.5L892.8 806.2L893.1 806.6L893.5 804L893.8 803.8L894.2 797.8L894.5 814.9L894.9 803.8L895.6 811.4L895.9 805.1L896.3 811.5L897.7 800.5L898 806L898.4 804.3L899.1 813.1L899.4 806.2L899.8 807.1L900 835L900.4 810L900.1 813.4L900.8 810.8L901.2 812.6L901.5 807.8L901.9 809.9L902.2 808.6L902.6 812.5L902.9 812.8L903.3 808.6L904 811.8L904.3 818.9L904.7 809.6L905 840L905.4 813.9L905 810.3L905.4 816.5L906.4 811.1L906.8 814.3L907.1 812.7L907.5 816.4L907.7 766L908.1 816.3L907.8 813.4L908.5 814.9L909.2 810.9L909.6 811.1L909.9 814.8L910.3 811.2L910.6 818.4L911.3 812.5L912 815.1L912.4 813.4L913.1 814.8L913.4 822.5L913.8 820.2L914.1 820.6L914.5 818.6L914.8 818.8L915.2 816.4L915.7 816.8L916.2 816.4L916.7 817.4L917.2 817.1L918.2 820.8L918.7 818.9L919.2 818.9L919.7 819.7L920.2 819.3L920.7 821.1L921.2 821.3L921.7 819.5L922.2 819.9L923.2 822.9L924.2 821.4L924.7 823.6L925.2 820.3L925.7 820.7L926.2 823.5L927.2 821.2L928.2 825L928.7 823.5L929.7 822.4L930.2 822.5L930.7 825.6L931.2 824.3L931.7 826L932.2 822.9L932.7 823.8L933.2 823.2L933.7 824.6L934.2 823.5L935.2 825L936.2 823.9L936.7 824L937.2 827.5L937.7 824.8L938.2 826.1L938.7 825.8L939.2 826.4L939.7 824.9L940.2 826.3L941.7 826.4L944.7 827.9L946.2 827.9L947.7 828.5L950.7 827.9L952.2 828.4L956.7 827.9L961.2 828.3L962.7 827.5L965.7 827.9L968.7 826.4L971.7 825.7L973.2 826.2L974.7 826L977.7 824.5L982.2 823.4L986.7 823.8L988.2 823.1L989.7 822L991.2 819.4L1001.7 807.1L1006.2 801.2L1018.2 789.2L1025.7 776.7L1030.2 770.4L1033.2 764.7L1034.7 763L1037.7 756.9L1043.7 747.6L1048.2 739.7L1054.2 730.5L1058.7 724.9L1060.2 722.2L1061.7 720.8L1063.2 718.5L1064.7 717.2L1066.2 715L1067.7 713.6L1070.7 708.8L1072.2 707.2L1073.7 706.6L1075.2 704.7L1078.2 702.1L1081.2 700L1082.7 698.2L1084.2 697.4L1087.2 693.7L1088.7 693.4L1091.7 690.6L1093.2 690.8L1094.7 688.7L1096.2 688.4L1097.7 687.4L1099.2 686.9L1102.2 684.3L1105.2 682.5L1109.7 681.2L1111.2 679.9L1114.2 678.6L1115.7 678.8L1123.2 674.5L1124.7 674.9L1127.7 673.2L1130.7 672.6L1132.2 672.9L1133.7 672.8L1135.2 671.6L1136.7 671.9L1138.2 671L1139.7 671.1L1140 668.8L1146.3 668.8L1150.2 663.1L1152.7 670.7L1155.9 663.7L1158.4 673.3L1161 657.4L1162.9 677.1L1166.7 656.1L1171.1 685.3L1173 668.2L1176.8 652.3L1178.7 688.5L1181.3 657.4L1183.8 675.2L1185.7 660.6L1188.9 671.3L1191.7 678.3L1193.3 633.9L1194.6 677.1L1197.8 640.2L1199.7 668.2L1202.2 662.5L1206.7 660.6L1209.8 661.8L1214.9 659.3L1215.2 664.6L1217.2 664.1L1219.2 659.3L1221.2 662.7L1223.2 661.4L1225.2 659.2L1231.2 664.6L1233.2 664.2L1235.2 662.6L1237.2 663.3L1239.2 662L1241.2 661.5L1243.2 664.5L1245.2 663.4L1249.2 658.1L1251.2 653.4L1253.2 663.8L1255.2 662.2L1257.2 662.6L1259.2 659.5L1261.2 663.6L1263.2 664.1L1265.2 665.4L1269.2 659.7L1271.2 660.4L1273.2 663.6L1275.2 662.7L1277.2 660.1L1279.2 660.4L1281.2 660.1L1285.2 662.7L1289.2 662.1L1291.2 660.3L1295.2 665.5L1297.2 660.9L1299.2 665.7L1301.2 661.9L1303.2 660.7L1305.2 657.7L1307.2 650.3L1309.2 651.3L1311.2 645.8L1313.2 656.6L1317.2 668.5L1321.2 654.4L1323.2 660.1L1323.6 658" stroke="#10b0f6"/>
<path d="M789 739.2L789.5 739.2L790 742.2L790.5 740.4L791 743.2L791.5 743.2L792 742.6L792.5 745.3L793 744L793.5 746.5L794 745.6L794.5 746.4L795.5 751.1L796 748.7L797.5 754.5L798 753.5L798.5 753.4L799 756.7L799.5 753.3L800 757.6L800.5 755.7L801 755.8L802 757.8L802.5 760.7L803 758.6L804 761.7L804.5 761L805 762.3L805.5 760.7L806 761.2L807 765L807.5 764.5L808 764.5L808.5 766.2L809.5 766L810 768.7L810.5 768.8L811 767.4L812.5 771.1L813 770.7L813.5 769.1L814 772.4L814.5 769L815.5 772.4L816 770L816.5 771.8L817 770.1L817.5 773.2L818 773.9L818.5 773.4L819 775L819.5 772.9L820 774.9L821.5 775.1L822.5 778.1L823 776.5L823.5 777.8L824 775.6L824.5 778.8L825 779L825.5 781L826 780.7L826.5 778.7L827.5 781.3L828 778.9L828.5 781.3L829 780.4L830 780.8L830.5 784.3L831 782L832 784L832.5 786.5L833 783.5L834.5 788.3L835.5 789.1L836 787L836.5 788L837 788.2L837.5 790.7L838 791.3L838.5 788L840 789.1L841 791.1L842 789.1L842.5 791.1L843 791.1L844 794.2L845 792.8L846 793.9L846.5 790.9L847 795.3L847.5 794.9L848 795.5L848.5 795.3L849 793.4L849.5 793.6L850 792.3L850.5 795.1L851 792.4L852 793.4L852.5 793.3L853 794.4L853.5 793.1L854 793L854.5 793.9L855 793.8L855.5 795.3L856 793.8L856.5 798.2L857.5 794.9L859 796.5L859.5 795.4L860 799.2L860.5 800.1L861 797.6L861.5 797.8L862 795.9L862.5 796.1L863 797.5L863.5 797.2L864 800.1L864.5 796.9L865 796.4L865.5 801.1L866.5 797.4L867 799.5L867.5 797L868.5 802L869.5 800.9L870.3 795.5L870.6 800.9L870.9 798.2L871.5 806L871.8 805.7L872.4 784.4L872.7 801.5L873.3 806.6L873.9 796.9L874.2 802.5L874.5 802.9L874.8 820.3L875.1 797.8L875.4 809.5L876 799.7L876.6 811.2L876.9 803.4L877.2 808.2L877.5 800L877.8 811.1L878.1 800.7L878.4 812.6L879 788.6L879.3 812.6L879.6 811.9L879.9 802.9L880.5 808.5L880.8 806.3L881.1 813.3L881.4 807.1L881.7 813.5L882 813.8L882.9 795.2L883.2 808.2L883.5 809.5L883.8 809.2L884.1 813L884.7 806.2L885.3 813.3L885.6 809L886.2 812.8L886.5 810.7L886.8 816.6L887.1 815.8L887.4 807.3L887.7 817.1L888 805.9L888.3 810.3L888.6 807.7L889.2 817.2L889.8 806.9L890.1 818.6L890.4 818.5L890.7 812.1L891 817.1L891.3 811.6L891.9 810.2L892.2 806.2L892.5 824.6L893 790L893.4 807.8L893.1 819.1L893.4 818.6L894 809.1L894.3 818.2L894.9 812.6L895.2 814.3L895.5 811.8L896.1 820L896.4 807.8L896.7 811.3L897 810.9L897.3 826.4L897.6 811.8L897.9 815.5L898.5 809.1L899.1 819.3L899.4 815.8L899.7 821.1L900 809.3L900.3 822.8L900.6 812.7L900.9 818.6L901.2 818.7L901.4 790L901.8 822L901.5 823.2L901.8 812.7L902.1 812.6L903 833.4L903.3 811.1L903.9 824.2L904.2 811.7L904.8 824.4L905.1 818.7L905.4 824.7L905.7 824.2L906 815.3L906.6 812.9L906.9 813.8L907 795L907.2 816.1L907.5 813.2L907.8 824.1L908.1 824.7L908.4 820.7L908.7 822.6L909.3 814.7L909.6 822.9L909.9 819L910.5 823.9L911.1 814.4L911.4 827.5L912 814.8L912.9 828.3L913.2 816.7L913.8 827.2L914.1 819.4L914.4 819.6L914.7 823L915.3 813.2L915.9 827.9L916.2 813.6L916.5 831.6L916.8 821.2L917.1 828.3L917.4 825.1L917.7 832.8L918 823.4L918.3 826.2L919.3 825.4L920.3 829.6L920.8 829.8L921.3 827.4L921.8 829.7L922.3 829.8L922.8 826.5L923.3 826.7L923.8 829.4L924.3 827.6L925.8 829.4L926.8 827.5L928.3 830.9L929.3 828.3L929.8 831.6L930.8 829.6L931.3 831L931.8 829.9L932.3 829.8L932.8 828.9L933.3 829.9L934.8 830.4L935.3 832.7L935.8 829.9L936.3 829.2L936.8 832.3L937.8 829.8L938.8 833.2L939.3 830.2L939.8 833.7L940.3 832.4L941.8 832.8L944.8 832.4L946.3 833.5L947.8 833.7L949.3 833.4L950.8 834.7L953.8 834.5L956.8 835.7L959.8 835.4L961.3 836.5L962.8 836.3L964.3 837.1L968.8 836.8L970.3 838.1L971.8 837.7L973.3 838.1L974.8 837.8L976.3 838.9L977.8 838.7L979.3 839.4L982.3 839L983.8 839.5L988.3 839.7L992.8 837.7L995.8 837.3L997.3 836.2L998.8 836.3L1000.3 835.1L1003.3 835.3L1007.8 833.6L1009.3 833.7L1015.3 831.6L1016.8 831.7L1019.8 830.1L1021.3 829.7L1024.3 827L1025.8 827.1L1027.3 825.6L1028.8 825.2L1030.3 823.6L1033.3 821.9L1037.8 817.6L1043.8 813L1045.3 810.6L1046.8 810.1L1048.3 808L1049.8 806.8L1052.8 802.9L1055.8 800L1057.3 797.1L1060.3 794.1L1063.3 790L1066.3 784.2L1067.8 782.9L1069.3 780.6L1078.3 764.5L1079.8 762.9L1081.3 759.4L1082.8 757.8L1087.3 750.6L1088.8 747.2L1090.3 745.7L1091.8 742.3L1094.8 738.9L1096.3 736.2L1099.3 733.4L1103.8 726.8L1105.3 725.1L1106.8 722.3L1109.8 719.4L1111.3 716.4L1114.3 713.2L1115.8 710.2L1118.8 708.1L1120.3 705.7L1123.3 703.4L1124.8 701.2L1127.8 698.6L1129.3 696.4L1132.3 694.2L1133.8 692L1135.3 690.6L1136.8 690L1139.8 686L1140 687.9L1146.3 680.2L1150.2 677.7L1152.7 680.2L1155.2 669.4L1157.8 677.7L1161.6 668.2L1164.8 678.3L1166.7 658.7L1168.6 670.7L1171.1 675.8L1174.3 675.2L1176.8 654.2L1179.4 672L1181.3 660.6L1183.8 665.6L1187 661.8L1189.5 655.5L1191.4 670.7L1193.3 642.8L1194.9 666.9L1197.1 649.1L1199.7 664.4L1202.2 658L1208.6 652.9L1212.4 654.2L1214.9 656.1L1215.3 653.8L1217.3 654.2L1219.3 655.5L1223.3 651.5L1225.3 661.6L1227.3 652.5L1229.3 651.8L1231.3 654.2L1233.3 654.9L1235.3 650.8L1237.3 651.7L1239.3 654L1241.3 651L1243.3 653.6L1245.3 652.9L1247.3 651.8L1249.3 644.8L1251.3 648.6L1253.3 656.7L1255.3 651.9L1257.3 643.3L1259.3 650.9L1261.3 650.6L1263.3 647.1L1265.3 649.1L1267.3 644.8L1269.3 646L1271.3 644.7L1273.3 651.3L1275.3 646.1L1277.3 644.5L1279.3 640.8L1281.3 646.1L1283.3 642.5L1285.3 643.7L1287.3 643.7L1289.3 638.5L1291.3 640.3L1293.3 643.3L1295.3 639.8L1297.3 639.5L1299.3 641.3L1301.3 640.1L1303.3 639.6L1307.3 635.9L1309.3 634.9L1311.3 637.7L1319.3 654L1323.3 651.8L1323.6 648.6" stroke="#ff0000"/>
<path d="M942 835.5L959.5 803.6" stroke="#000" stroke-width="2.6" stroke-dasharray="5 3"/>
<path d="M1030.3 842.7L1062 790" stroke="#ff0000" stroke-width="2.6" stroke-dasharray="5 3"/>
<path d="M949 1005.9L950.4 1007.5L951.8 1010.7L953.2 1008.6L956 1011.2L957.4 1009.5L958.8 1012.5L961.6 1015.9L963 1012.3L964.4 1014.4L965.8 1014L967.2 1019.8L968.6 1020.3L970 1017.3L971.4 1024.6L972.8 1025.9L974.2 1025.2L975.6 1026.5L977 1025.3L978.4 1026.1L979.8 1031.2L981.2 1030L984 1035.6L1002 1046.1L1005 1047.2L1006.1 1048.2L1008.3 1046.6L1009.4 1050.5L1010.5 1050.7L1012.7 1049.9L1013.8 1048.2L1014.9 1048.1L1016 1048.8L1017.1 1048L1018.2 1051.9L1019.3 1050.4L1020.4 1053.1L1021.5 1051.1L1022.6 1054.5L1023.7 1054.4L1024.8 1050.4L1025.9 1051.9L1027 1056L1028.1 1054.1L1029.2 1057.2L1030.3 1054.6L1031.4 1053.4L1032.5 1056.7L1033.6 1057.9L1034.7 1055.7L1035.8 1055.2L1036.9 1057L1038 1060.7L1039.1 1060.1L1040.2 1057.1L1041.3 1057.9L1042.4 1057.4L1043.5 1057.4L1044.6 1061.5L1045.7 1058.5L1046.8 1060.7L1047.9 1060.3L1049 1059.2L1050.1 1062.2L1051.2 1059.3L1052.3 1062.2L1053.4 1059.7L1054.5 1061.5L1055.6 1060.6L1056.7 1061.2L1057.8 1065L1058.9 1064.4L1060 1061.9L1061.1 1065.1L1062.2 1061.7L1063.3 1062.8L1064.4 1065.3L1065.5 1064.3L1066.6 1061.6L1067.7 1066.3L1068.8 1062.4L1069.9 1062.7L1071 1065.5L1072.1 1063.3L1073.2 1063.3L1074.3 1062.2L1075.4 1062.4L1076.5 1065.1L1077.6 1063.4L1078.7 1065.4L1079.8 1064.2L1080.9 1064.5L1082 1067.1L1083.1 1064.5L1084.2 1064.9L1085.3 1066.3L1086.4 1062.7L1087.5 1062.4L1088.6 1066.2L1089.7 1065.7L1090.8 1062.4L1091.9 1061.6L1093 1064L1094.1 1064.7L1095.2 1060.3L1096.3 1063.8L1097.4 1063L1099.6 1059.8L1100.7 1061.4L1101.7 1060.4L1102.7 1060.6L1104.7 1053.3L1105.7 1057.8L1106.7 1053.6L1107.7 1058.4L1108.7 1052.4L1109.7 1057.6L1111.7 1051.2L1112.7 1054L1113.7 1051.1L1114.7 1041L1115.7 1046.8L1116.7 1043.6L1117.7 1047.5L1118.7 1054.4L1119.7 1045.9L1120.7 1043.7L1121.7 1044.1L1122.7 1041.7L1123.7 1042L1124.7 1040.6L1126.7 1036.2L1127.7 1028.7L1128.7 1037.5L1129.7 1033.5L1130.7 1033.8L1132.7 1023.2L1133.7 1031.3L1134.7 1032L1135.7 1029.4L1137.7 1029.7L1138.7 1024.3L1139.7 1023.5L1140.7 1026L1141.7 1021L1143.7 1018.9L1144.7 1018.7L1145.7 1022.7L1146.7 1015L1147.7 1019.1L1148.7 1014.5L1149.7 1015.3L1150.7 1019.2L1151.6 1008.8L1152.5 1007.1L1153.4 1013.3L1154.3 1006.5L1155.2 1009.3L1156.1 1017.6L1157 984.7L1157.9 1007.5L1158.8 1009.7L1159.7 1019L1160 1030L1160.4 1006.8L1161.5 1009.3L1162.4 1008.5L1163.3 998.4L1164.2 1006.5L1165 990L1165.4 991.2L1165.1 997L1166 1004.3L1166.9 997.2L1167.8 1000.4L1169.6 988L1170.5 998.1L1172 1035L1172.3 991.3L1173.2 986.5L1174.1 995.2L1175 980.4L1175.9 987.9L1176.8 971.1L1178 980L1178.6 991.8L1179.5 992.4L1180.4 983L1181.3 980.9L1183.1 985.1L1184 980.8L1184.9 993.4L1185.8 976.2L1186 935L1186.4 985.4L1186.7 972.3L1187.6 985.3L1188.5 961.7L1189.4 961.3L1190 1030L1190.4 973.1L1190.3 980.1L1192.1 965.4L1193.9 979.4L1194.8 991.8L1195.7 978.2L1196 918L1196.4 970.6L1196.6 962.6L1197.5 960.4L1198.4 971.8L1199.3 940.8L1200 990L1200.2 965.1L1201.4 961.2L1202.6 960.6L1203.8 961.3L1205 963.8L1206.2 961.1L1207.4 962.1L1208.6 957.4L1209.8 961.8L1211 963.5L1212.2 962.7L1213.4 960.5L1214.6 961.6L1215.8 953.7L1217 951.7L1218.2 951.7L1219.4 948.5L1220.6 951.8L1221.8 952.2L1223 947.3L1224.2 967.8L1225.4 965.4L1227.8 929.5L1229 948.1L1230.2 945.6L1231.4 940.4L1232.6 940.1L1233.8 945.4L1235 938.1L1236.2 946.8L1237.4 941L1238.6 927.6L1241 941L1243.4 923.2L1244.6 937.7L1247 934.5L1248.2 938.2L1249.4 928.5L1250.6 933.4L1253 933.3L1254.2 929.9L1255.4 929.8L1256.6 937.1L1257.8 919.9L1259 929.6L1260.2 917.8L1261.4 928.3L1262.6 918.8L1263.8 929.7L1265 930L1265.4 923.7L1265 924.4L1266.2 915.1L1267.4 923.2L1268.6 906.8L1269.8 913.5L1272.2 918.9L1273.4 918.1L1274.6 912.6L1275.8 918.7L1277 918.5L1278.2 914.6L1279.4 914.1L1280.6 919.1L1281.8 915.4L1284.2 911.8L1285.4 912.8L1286.6 909.1L1287.8 913.2L1289 905L1290.2 911.1L1291.4 908.4L1292.6 903.5L1295 910.4L1296.2 910.7L1297.4 909.1L1298.6 894.5L1299.8 908L1301 910.4L1302.2 915.4L1303.4 892.8L1304.6 902.2L1305.8 901.7L1307 902.7L1309.4 906.4L1310.6 902.7L1311 876L1311.8 904L1314.2 895.3L1315.4 898.2L1316.6 898.5L1317.8 892.5L1319 901.3L1321.4 882.4L1322.6 876.8L1323 890" stroke="#f77b7b" stroke-width="2.2"/>
<path d="M949 1039.2L949.8 1041L951.4 1042.2L952.2 1040.5L954.6 1041.7L955.4 1043.7L956.2 1042.1L957 1043.8L957.8 1043.1L959.4 1044.6L960.2 1046.2L961 1045.7L961.8 1044L962.6 1045.1L963.4 1044.9L964.2 1047.5L967.4 1048L968.2 1048.9L969 1048.7L969.8 1047.2L970.6 1049.3L971.4 1048.4L972.2 1049.5L973.8 1049L975.4 1049.4L977 1048.9L977.8 1051.4L978.6 1051.6L979.4 1052.4L980.2 1051.2L986.2 1052.7L989.2 1053.1L992.2 1054.2L998.2 1055.3L1004.2 1057.1L1005 1056.6L1006.6 1058L1008.2 1057.1L1009 1058.3L1009.8 1057.8L1011.4 1058.1L1012.2 1058.8L1013 1058.2L1014.6 1061.1L1015.4 1059.8L1017 1061.7L1017.8 1059.4L1018.6 1059.9L1019.4 1062L1020.2 1062.3L1021 1062L1021.8 1060.8L1023.4 1063.3L1024.2 1063.5L1025 1063.5L1025.8 1062L1026.6 1064.1L1027.4 1063L1028.2 1064.1L1029 1062.7L1029.8 1065.2L1030.6 1064.3L1031.4 1064.7L1032.2 1063.4L1033 1064.6L1034.6 1064.7L1035.4 1064.2L1036.2 1065.3L1037 1064.3L1038.6 1064L1039.4 1065.6L1040.2 1064L1041 1064.5L1041.8 1064.1L1042.6 1065.8L1044.2 1065.7L1045 1064.4L1045.8 1065.6L1048.2 1064.7L1049 1067.5L1049.8 1065.2L1050.6 1065.8L1051.4 1065.8L1052.2 1066.8L1053 1065.4L1053.8 1066.6L1054.6 1066.4L1055.4 1067.8L1056.2 1065.4L1057.8 1066.5L1058.6 1067.7L1059.4 1066.3L1060.2 1066.1L1061 1066.5L1062.6 1064.5L1064.2 1066.7L1065 1066.1L1065.8 1064.7L1066.6 1065.7L1067.4 1066.1L1068.2 1064.3L1069 1065.1L1070.6 1063.9L1072.2 1063.5L1073 1063.8L1073.8 1062.8L1074.6 1063.7L1075.4 1062.7L1076.2 1064.2L1077 1063.4L1077.8 1061.4L1078.6 1063.2L1079.4 1061.2L1080.2 1061.7L1081 1061.5L1082.6 1060.1L1083.4 1060.2L1084.2 1059L1085 1060.6L1085.8 1058.2L1086.6 1059.8L1087.4 1057.8L1089 1057.6L1089.8 1056.2L1091.4 1056.3L1092.2 1055.7L1093 1056.2L1093.8 1055.7L1094.6 1052.3L1095.4 1052.8L1096.2 1050.9L1097 1052L1097.8 1049.9L1098.6 1050.7L1099.4 1048.9L1100.2 1038.6L1101.2 1051.4L1102.2 1044.6L1103.2 1042.3L1104.2 1045.5L1105.2 1043.7L1106.2 1038.7L1108.2 1034.8L1109.2 1038.6L1110.2 1033.7L1111.2 1030.9L1112.2 1030L1113.2 1032.5L1114.2 1025.5L1115.2 1032.2L1116.2 1024.6L1117.2 1025.3L1118.2 1020.2L1119.2 1017.3L1120.2 1020.8L1122.2 1008.4L1124.2 1013.4L1125.2 1011.4L1126.2 1004.8L1127.2 1006.8L1128.2 1001.1L1129.2 1004.1L1130.2 1001.1L1131.2 994.5L1132.2 995.8L1133.2 991L1134.2 989.6L1135.2 990.7L1136.2 985.8L1137.2 989.1L1138.2 981.9L1139.2 984.7L1140.2 980.4L1141.2 981.1L1142.2 978.3L1143.2 971.5L1144.2 983.1L1145.2 976.9L1146.2 973.6L1147.2 974.5L1148.2 977.3L1149.2 971.3L1150.2 970.6L1152.6 964.7L1155 951.8L1156.2 958.9L1157.4 961L1158.6 958.8L1159.8 954.8L1161 956.9L1162.2 955.6L1163.4 951.2L1164.6 949.8L1165.8 942.2L1168.2 946.1L1169.4 941.2L1170.6 941L1171.8 934.7L1173 933.9L1174.2 934.1L1175.4 931.7L1176.6 931.2L1177.8 926.6L1179 934.9L1180.2 930.2L1181.4 932.5L1182.6 932.2L1185 925.4L1186.2 924.8L1187.4 908.1L1188.6 919.2L1189.8 914.4L1191 915.5L1192.2 912.7L1193 889L1193.4 915.7L1195.8 909.6L1197 909.7L1198.2 917.3L1199.4 915.2L1200.6 919.1L1201.8 906.5L1203 917.7L1204.2 908.2L1205.4 904.4L1206.6 913.1L1207.8 897.8L1209 904.2L1210.2 906.5L1212.6 904.5L1213.8 901.9L1215 901.5L1216.2 899.8L1217.4 912.1L1218.6 906.2L1219.8 908.7L1221 901.1L1222.2 901.8L1223.4 904L1224.6 900.6L1225.8 898.8L1227 901.3L1228.2 900.7L1229.4 898.2L1230.6 893.8L1231.8 895.6L1233 905.9L1234.2 898.9L1236.6 890.4L1237.8 891.5L1239 889.1L1240.2 888.1L1241.4 879.2L1242.6 892L1245 884.6L1246.2 883.5L1248.6 890.5L1249.8 895.4L1250 878L1250.4 882.9L1251 881.2L1252.2 888.9L1253.4 877.2L1254.6 885.9L1257 878.3L1258.2 881.9L1259.4 881.1L1260.6 876.1L1261.8 882.7L1263 884.4L1264.2 878.6L1265.4 884.3L1266.6 881.8L1267.8 877.8L1269 880.5L1271.4 881.7L1272.6 880L1273.8 876.9L1275 879.7L1276.2 875.5L1277.4 874L1278.6 871L1281 878.5L1282.2 870.4L1283.4 879.5L1284.6 875.7L1285.8 876.5L1287 875.8L1288.2 870.2L1289.4 885.6L1290.6 869.9L1291.8 866.8L1293 871.6L1294.2 874.4L1296 865L1296.4 876.2L1296.6 871.9L1297.8 871.7L1299 876.4L1300.2 873.9L1301.4 875.2L1302.6 874.6L1303.8 871.8L1305 867.1L1306.2 866.1L1307.4 872L1308.6 873L1309.8 866.1L1311 869.1L1312.2 862.9L1313.4 871.4L1314.6 867.6L1315.8 860.6L1317 866.3L1318.2 858.8L1319.4 857.8L1320.6 864.4L1321.8 855.7L1322.8 860" stroke="#008000" stroke-width="2.8"/>
<path d="M1096.2 1068.9L1116.1 1029" stroke="#008000" stroke-width="2.6" stroke-dasharray="5 3"/>
<path d="M1099 1069L1108 1057" stroke="#f77b7b" stroke-width="2.4" stroke-dasharray="4 3"/>
</g>
</svg></body></html>
